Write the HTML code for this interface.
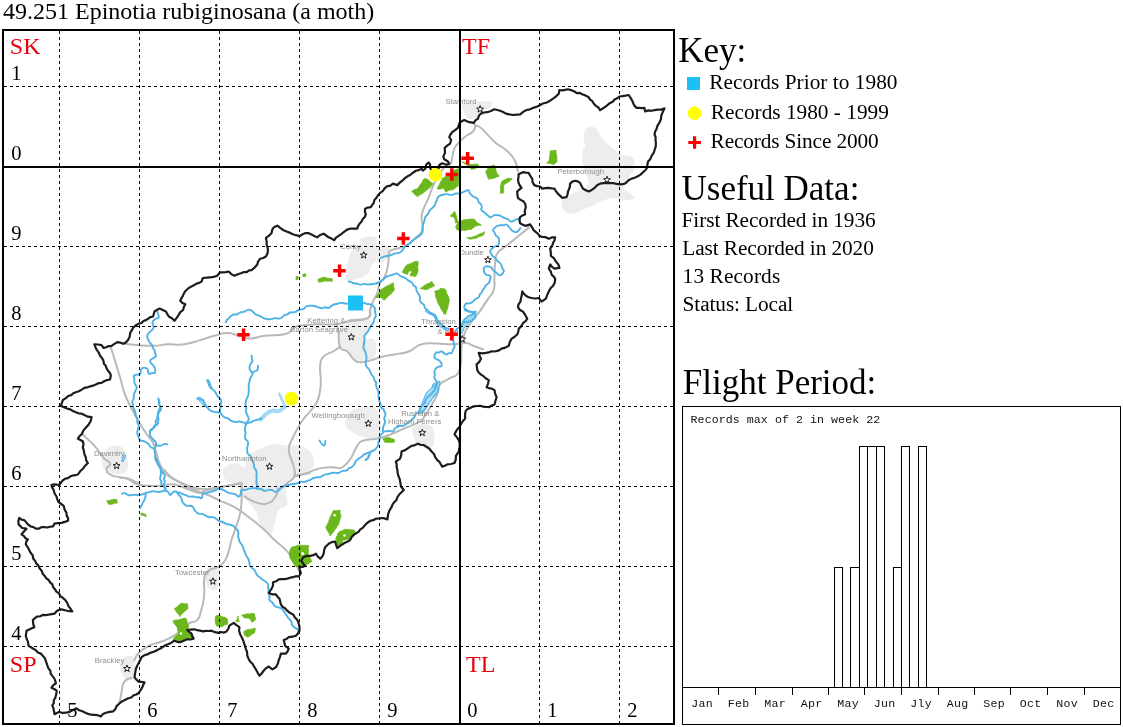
<!DOCTYPE html>
<html><head><meta charset="utf-8"><title>49.251 Epinotia rubiginosana (a moth)</title>
<style>
html,body{margin:0;padding:0;background:#fff;}
body{width:1123px;height:727px;overflow:hidden;position:relative;font-family:"Liberation Serif","Times New Roman",serif;}
svg{position:absolute;left:0;top:0;}
text{font-family:"Liberation Serif","Times New Roman",serif;fill:#000;}
.lbl{font-family:"Liberation Sans",Arial,sans-serif;font-size:7.7px;fill:#8e8e8e;}
.mono{font-family:"Liberation Mono","Courier New",monospace;font-size:11.6px;fill:#111;}
.gl{stroke:#000;stroke-width:1;stroke-dasharray:3 3;fill:none;shape-rendering:crispEdges;}
.sl{stroke:#000;stroke-width:2;fill:none;shape-rendering:crispEdges;}
.ch{stroke:#000;stroke-width:1;fill:none;shape-rendering:crispEdges;}
.red{fill:#ff0000;}
.dg{font-size:20.5px;}
.gr{font-size:24px;fill:#e8000d;}
.h{font-size:35px;}
.t{font-size:21.3px;}
</style></head><body>
<svg width="1123" height="727" viewBox="0 0 1123 727">
<rect x="0" y="0" width="1123" height="727" fill="#fff"/>

<text x="3" y="18.7" font-size="24">49.251 Epinotia rubiginosana (a moth)</text>
<clipPath id="mc"><rect x="4" y="31" width="669" height="692"/></clipPath>
<filter id="bl" x="0" y="0" width="1123" height="727" filterUnits="userSpaceOnUse"><feGaussianBlur stdDeviation="0.45"/></filter>
<g clip-path="url(#mc)"><g filter="url(#bl)">
<g fill="#ededed" stroke="none">
<path d="M462.9 104.3C465.5 102.0 471.8 102.1 477.2 101.5C482.6 100.9 487.4 100.5 490.1 101.5C492.8 102.5 492.2 104.5 490.8 106.5C489.4 108.5 485.7 109.4 483.0 111.5C480.3 113.6 480.1 115.8 477.2 117.2C474.3 118.6 471.3 119.5 468.7 118.6C466.1 117.7 465.6 115.8 464.4 112.9C463.2 110.0 460.3 106.6 462.9 104.3Z"/>
<path d="M586.5 128.7C588.9 126.6 592.8 126.3 595.8 128.0C598.8 129.7 598.7 133.7 601.6 137.3C604.5 140.9 606.1 142.5 610.1 145.9C614.1 149.3 617.2 152.1 621.6 154.4C626.0 156.7 629.7 154.5 632.3 157.3C634.9 160.1 635.2 164.6 634.5 168.6C633.8 172.6 631.1 173.5 628.8 177.2C626.5 180.9 621.9 183.2 623.0 187.2C624.1 191.2 633.9 194.6 634.5 197.2C635.1 199.8 631.1 199.7 626.0 200.0C620.9 200.3 616.3 197.3 608.8 198.7C601.3 200.1 596.4 204.2 588.7 207.2C581.0 210.2 575.5 214.3 570.1 213.7C564.7 213.1 561.8 208.0 561.5 204.4C561.2 200.8 565.0 198.7 568.7 195.8C572.4 192.9 576.0 192.6 580.0 190.0C584.0 187.4 588.1 187.5 588.7 182.9C589.3 178.3 584.1 173.6 583.0 167.0C581.9 160.4 582.4 154.0 583.0 150.1C583.6 146.2 585.7 149.6 585.8 147.3C585.9 145.0 583.6 142.4 583.7 138.7C583.8 135.0 584.1 130.8 586.5 128.7Z"/>
<path d="M413.0 427.2C415.3 424.3 421.9 424.0 425.9 424.3C429.9 424.6 431.3 425.7 433.0 428.6C434.7 431.5 434.8 435.0 434.5 438.7C434.2 442.4 434.9 446.0 431.6 447.0C428.3 448.0 421.4 445.4 418.0 443.7C414.6 442.0 415.4 442.0 414.4 438.7C413.4 435.4 410.7 430.1 413.0 427.2Z"/>
<path d="M357.2 408.6C362.3 407.2 369.7 405.2 374.3 407.2C378.9 409.2 378.9 413.2 380.1 418.6C381.3 424.0 381.5 430.4 380.1 434.4C378.7 438.4 376.3 438.1 372.9 438.7C369.5 439.3 367.2 438.6 362.9 437.2C358.6 435.8 354.8 434.1 351.4 431.5C348.0 428.9 346.3 427.7 345.7 424.3C345.1 420.9 346.3 417.4 348.6 414.3C350.9 411.2 352.1 410.0 357.2 408.6Z"/>
<path d="M361.5 238.6C364.4 237.2 371.2 235.8 374.4 237.2C377.6 238.6 376.7 241.4 377.3 245.7C377.9 250.0 378.4 254.6 377.3 258.6C376.2 262.6 373.6 262.6 371.6 265.8C369.6 269.0 370.2 271.8 367.3 274.4C364.4 277.0 361.2 277.6 357.2 278.7C353.2 279.8 349.5 281.3 347.2 280.1C344.9 278.9 345.5 277.2 345.8 272.9C346.1 268.6 347.3 263.5 348.7 258.6C350.1 253.7 350.7 251.5 353.0 248.6C355.3 245.7 358.4 246.3 360.1 244.3C361.8 242.3 358.6 240.0 361.5 238.6Z"/>
<path d="M377.0 245.0C379.4 242.0 387.8 244.4 390.0 247.0C392.2 249.6 390.4 255.0 388.0 258.0C385.6 261.0 380.2 264.6 378.0 262.0C375.8 259.4 374.6 248.0 377.0 245.0Z"/>
<path d="M347.3 320.0C352.7 318.3 364.1 317.5 368.7 318.6C373.3 319.7 370.8 321.7 370.2 325.7C369.6 329.7 365.0 335.7 365.9 338.6C366.8 341.5 372.6 336.7 374.5 340.1C376.4 343.5 376.9 351.5 375.2 355.8C373.5 360.1 369.8 360.4 365.9 361.5C362.0 362.6 359.6 363.5 355.9 361.5C352.2 359.5 350.5 354.4 347.3 351.5C344.1 348.6 341.8 350.3 340.1 347.2C338.4 344.1 338.4 339.8 338.7 335.8C339.0 331.8 339.8 330.4 341.5 327.2C343.2 324.0 341.9 321.7 347.3 320.0Z"/>
<path d="M223.0 470.1C223.6 466.7 227.0 465.7 230.1 464.4C233.2 463.1 235.8 462.9 238.6 463.5C241.4 464.1 242.3 468.7 244.3 467.2C246.3 465.7 246.0 459.2 248.6 455.8C251.2 452.4 252.0 452.3 257.2 450.0C262.4 447.7 268.4 445.2 274.4 444.3C280.4 443.4 282.3 445.4 287.2 445.7C292.1 446.0 294.1 444.5 298.7 445.7C303.3 446.9 307.1 448.3 310.1 451.5C313.1 454.7 313.4 458.1 313.7 461.5C314.0 464.9 314.3 465.7 311.6 468.6C308.9 471.5 303.8 473.8 300.1 475.8C296.4 477.8 295.6 476.7 293.0 478.7C290.4 480.7 288.6 483.2 287.2 485.8C285.8 488.4 285.8 487.8 285.8 491.5C285.8 495.2 288.6 500.7 287.2 504.4C285.8 508.1 281.0 507.2 278.7 510.1C276.4 513.0 277.2 513.9 275.8 518.7C274.4 523.5 273.1 531.3 271.5 534.0C269.9 536.7 270.6 534.5 268.0 532.0C265.4 529.5 261.0 525.7 258.6 521.6C256.2 517.5 259.2 517.3 255.8 511.6C252.4 505.9 244.3 498.5 241.4 493.0C238.5 487.5 244.2 486.3 241.4 484.0C238.6 481.7 231.0 484.4 227.3 481.6C223.6 478.8 222.4 473.5 223.0 470.1Z"/>
<path d="M111.6 446.5C115.0 445.4 118.5 444.6 121.6 447.3C124.7 450.0 126.2 455.8 127.3 460.1C128.4 464.4 128.7 465.8 127.3 468.7C125.9 471.6 124.1 473.9 120.1 474.5C116.1 475.1 111.0 473.9 107.3 471.6C103.6 469.3 102.1 466.7 101.5 463.0C100.9 459.3 102.4 456.3 104.4 453.0C106.4 449.7 108.2 447.6 111.6 446.5Z"/>
<path d="M207.2 568.6C209.8 565.7 216.6 565.2 218.7 568.6C220.8 572.0 219.1 581.5 217.9 585.8C216.7 590.1 215.3 590.7 212.9 590.1C210.5 589.5 206.9 587.2 205.8 582.9C204.7 578.6 204.6 571.5 207.2 568.6Z"/>
<path d="M124.4 657.2C127.1 655.8 131.7 655.2 133.7 657.2C135.7 659.2 134.6 663.3 134.5 667.3C134.4 671.3 134.7 675.0 133.0 677.3C131.3 679.6 128.2 679.6 125.9 678.7C123.6 677.8 122.8 675.9 121.6 673.0C120.4 670.1 119.5 667.6 120.1 664.4C120.7 661.2 121.7 658.6 124.4 657.2Z"/>
</g>
<g fill="none" stroke="#b9b9b9" stroke-width="2" stroke-linejoin="round" stroke-linecap="round">
<path d="M473.7 122.9C474.0 123.7 475.2 123.5 475.0 125.8C474.8 128.1 475.8 128.5 473.0 131.5C470.2 134.5 468.2 134.1 464.4 137.2C460.6 140.3 461.3 139.9 458.6 143.0C455.9 146.1 456.0 144.9 454.3 148.7C452.6 152.5 453.3 153.2 452.2 157.3C451.1 161.4 452.7 161.0 450.3 164.0C447.9 167.0 447.3 163.6 443.1 168.6C438.9 173.6 438.3 175.3 434.5 182.9C430.7 190.5 431.8 189.9 428.8 197.2C425.8 204.5 425.0 204.4 423.1 210.1C421.2 215.8 421.8 213.4 421.6 218.7C421.4 224.0 424.3 224.8 422.4 230.1C420.5 235.4 418.9 234.5 414.5 238.7C410.1 242.9 412.0 242.6 405.9 245.7C399.8 248.8 396.2 248.0 391.6 250.2C387.0 252.4 389.5 251.8 388.7 254.0C387.9 256.2 389.1 254.7 388.7 258.6C388.3 262.5 388.4 263.6 387.3 268.6C386.2 273.6 386.5 273.0 384.4 277.2C382.3 281.4 381.3 280.2 379.4 284.4C377.5 288.6 379.0 288.4 377.3 293.0C375.6 297.6 374.9 297.0 373.0 301.6C371.1 306.2 370.9 306.3 370.1 310.1C369.3 313.9 372.0 313.4 370.1 315.9C368.2 318.4 368.3 318.3 363.0 319.4C357.7 320.5 353.5 320.0 350.1 320.2"/>
<path d="M475.0 125.8C476.4 126.2 476.8 124.9 480.1 127.2C483.4 129.5 483.1 130.2 487.3 134.4C491.5 138.6 491.2 139.2 495.8 143.0C500.4 146.8 500.2 145.3 504.4 148.7C508.6 152.1 508.5 152.0 511.6 155.8C514.7 159.6 514.2 158.8 515.9 163.0C517.6 167.2 517.4 169.3 518.0 171.6"/>
<path d="M529.1 227.4C525.4 230.4 521.7 233.4 515.1 238.7C508.5 244.0 509.2 243.4 504.4 247.3C499.6 251.2 499.7 249.3 497.2 253.5C494.7 257.7 495.8 256.6 495.1 262.9C494.4 269.2 494.8 269.9 494.4 277.2C494.0 284.5 495.6 284.0 493.7 290.1C491.8 296.2 491.2 294.0 487.2 300.1C483.2 306.2 483.6 306.1 478.6 313.0C473.6 319.9 472.4 320.2 468.6 325.9C464.8 331.6 466.3 329.0 464.4 334.3C462.5 339.6 462.9 336.3 461.6 345.8C460.3 355.3 462.8 361.3 459.4 370.1C456.0 378.9 453.8 374.9 448.7 378.7C443.6 382.5 443.2 380.2 440.1 384.4C437.0 388.6 439.5 388.9 437.2 394.4C434.9 399.9 435.4 398.5 431.6 405.0C427.8 411.5 426.8 413.8 423.0 418.6C419.2 423.4 421.5 420.6 417.3 422.9C413.1 425.2 412.7 424.9 407.3 427.2C401.9 429.5 402.6 429.2 397.2 431.5C391.8 433.8 392.9 433.9 387.2 435.8C381.5 437.7 382.3 437.4 375.8 438.7C369.3 440.0 367.9 438.9 362.9 440.8C357.9 442.7 360.3 441.4 357.2 445.8C354.1 450.2 354.5 452.3 351.4 457.3C348.3 462.3 348.7 461.5 345.7 464.4C342.7 467.3 343.8 467.3 340.0 468.0C336.2 468.7 337.2 467.0 331.5 467.2C325.8 467.4 325.2 467.1 318.7 468.6C312.2 470.1 313.7 470.8 307.2 472.9C300.7 475.0 297.7 475.5 294.3 476.5"/>
<path d="M123.0 343.7C126.8 344.1 128.9 344.5 137.3 345.1C145.7 345.7 146.5 346.0 154.5 345.8C162.5 345.6 159.3 344.7 167.2 344.3C175.1 343.9 175.5 345.4 184.3 344.3C193.1 343.2 192.1 342.4 200.1 340.1C208.1 337.8 207.1 337.7 214.4 335.8C221.7 333.9 220.8 332.9 227.3 332.9C233.8 332.9 232.6 334.3 238.7 335.8C244.8 337.3 243.3 338.6 250.2 338.6C257.1 338.6 255.4 336.9 264.5 335.8C273.6 334.7 276.9 336.2 284.5 334.3C292.1 332.4 289.0 330.9 293.1 328.6C297.2 326.3 293.9 326.8 300.0 325.7C306.1 324.6 305.9 324.7 315.8 324.3C325.7 323.9 328.8 325.1 337.2 324.3C345.6 323.5 341.2 322.5 347.3 321.4C353.4 320.3 354.4 321.1 360.1 320.0C365.8 318.9 366.0 319.3 368.7 317.2C371.4 315.1 369.7 313.4 370.1 312.0"/>
<path d="M338.7 332.9C339.1 336.7 337.8 342.2 340.1 347.2C342.4 352.2 343.5 348.1 347.3 351.5C351.1 354.9 350.6 357.2 354.4 360.1C358.2 363.0 357.0 362.2 361.6 362.2C366.2 362.2 366.6 361.4 371.6 360.1C376.6 358.8 374.1 358.7 380.2 357.2C386.3 355.7 386.9 355.9 394.5 354.4C402.1 352.9 401.5 354.2 408.8 351.5C416.1 348.8 414.1 346.4 421.7 344.3C429.3 342.2 429.2 343.6 437.2 343.6C445.2 343.6 443.9 344.5 451.6 344.3C459.3 344.1 460.2 342.5 465.9 342.9C471.6 343.3 468.4 344.1 473.0 345.8C477.6 347.5 480.3 348.4 483.0 349.4"/>
<path d="M337.2 324.3 L338.7 332.9"/>
<path d="M340.1 347.2C338.2 348.3 337.6 348.8 333.0 351.5C328.4 354.2 326.3 353.0 322.9 357.2C319.5 361.4 320.7 361.5 320.1 367.2C319.5 372.9 320.8 372.6 320.8 378.7C320.8 384.8 321.1 384.0 320.1 390.1C319.1 396.2 319.9 395.9 317.2 401.6C314.5 407.3 314.1 406.2 310.0 411.5C305.9 416.8 306.2 414.6 301.7 421.5C297.2 428.4 296.5 429.6 293.1 437.2C289.7 444.8 288.8 442.8 288.8 450.1C288.8 457.4 291.6 457.5 293.1 464.4C294.6 471.3 296.0 470.9 294.5 475.9C293.0 480.9 291.6 479.2 287.4 483.0C283.2 486.8 281.1 488.3 278.8 490.2"/>
<path d="M294.5 475.9 L310.0 473.0"/>
<path d="M110.8 347.2C111.8 350.3 112.3 351.8 114.4 358.7C116.5 365.6 117.0 367.3 118.7 373.0C120.4 378.7 119.4 374.7 120.9 380.0C122.4 385.3 121.9 386.0 124.4 392.9C126.9 399.8 126.4 398.2 130.2 405.8C134.0 413.4 134.5 414.2 138.7 421.5C142.9 428.8 142.1 427.3 145.9 433.0C149.7 438.7 150.4 438.0 153.1 443.0C155.8 448.0 154.1 445.9 155.9 451.6C157.7 457.3 156.6 457.9 160.0 464.4C163.4 470.9 162.9 470.9 168.6 475.9C174.3 480.9 174.6 478.8 181.5 483.0C188.4 487.2 187.9 488.5 194.4 491.5C200.9 494.5 199.0 491.8 205.9 494.3C212.8 496.8 212.6 497.4 220.2 500.8C227.8 504.2 226.9 502.8 234.5 507.2C242.1 511.6 241.2 511.5 248.8 517.2C256.4 522.9 256.2 522.6 263.1 528.7C270.0 534.8 268.8 534.7 274.5 540.0C280.2 545.3 279.9 544.0 284.5 548.6C289.1 553.2 288.2 552.2 291.6 557.2C295.0 562.2 295.1 562.6 297.4 567.2C299.7 571.8 299.5 572.4 300.2 574.3"/>
<path d="M120.0 477.9C122.3 478.3 124.0 477.6 128.6 479.3C133.2 481.0 131.9 482.6 137.2 484.3C142.5 486.0 142.5 485.3 148.6 485.7C154.7 486.1 153.6 486.1 160.1 485.7C166.6 485.3 166.9 483.9 173.0 484.3C179.1 484.7 177.3 485.3 183.0 487.2C188.7 489.1 191.4 490.4 194.4 491.5"/>
<path d="M164.4 470.0C166.3 471.9 166.5 473.4 171.5 477.2C176.5 481.0 176.1 480.7 183.0 484.3C189.9 487.9 192.0 488.9 197.3 490.8C202.6 492.7 196.9 492.5 203.0 491.5C209.1 490.5 209.9 489.3 220.2 487.2C230.5 485.1 235.9 484.6 241.6 483.6"/>
<path d="M181.5 483.0C186.1 484.5 188.8 487.6 198.7 488.7C208.6 489.8 207.3 488.8 218.7 487.3C230.1 485.8 235.5 484.1 241.6 483.0"/>
<path d="M241.6 483.6C241.6 487.6 242.0 490.8 241.6 498.6C241.2 506.4 241.7 505.3 240.2 512.9C238.7 520.5 238.2 520.0 235.9 527.2C233.6 534.4 233.4 533.5 231.5 540.0C229.6 546.5 230.6 545.7 228.7 551.4C226.8 557.1 227.5 557.3 224.4 561.5C221.3 565.7 221.4 564.7 217.2 567.2C213.0 569.7 212.0 567.8 208.6 570.8C205.2 573.8 205.4 573.5 204.3 578.6C203.2 583.7 204.5 584.4 204.3 590.1C204.1 595.8 204.5 594.4 203.6 600.1C202.7 605.8 202.5 606.3 200.8 611.6C199.1 616.9 200.5 616.9 197.2 620.1C193.9 623.3 194.3 619.9 188.6 623.7C182.9 627.5 183.2 629.6 176.0 634.3C168.8 639.0 168.9 638.4 161.6 641.5C154.3 644.6 154.9 642.7 148.8 645.8C142.7 648.9 142.5 649.2 138.7 653.0C134.9 656.8 135.6 658.2 134.5 660.1"/>
<path d="M131.6 678.0C129.7 679.0 127.1 678.0 124.4 681.6C121.7 685.2 122.7 686.6 121.6 691.6C120.5 696.6 120.9 696.9 120.1 700.2C119.3 703.5 119.1 703.0 118.7 704.0"/>
<path d="M244.5 496.5C247.9 498.2 250.9 501.2 257.4 502.9C263.9 504.6 263.8 504.8 268.8 502.9C273.8 501.0 273.7 499.6 276.0 495.8C278.3 492.0 277.0 490.5 277.4 488.6"/>
<path d="M82.2 433.7C83.9 435.4 85.1 436.5 88.7 440.1C92.3 443.7 92.0 442.7 95.8 447.3C99.6 451.9 99.2 452.9 103.0 457.3C106.8 461.7 109.2 460.7 110.1 463.7C111.0 466.7 106.5 465.8 106.5 468.7C106.5 471.6 106.5 472.2 110.1 474.5C113.7 476.8 115.1 476.2 120.1 477.3C125.1 478.4 123.7 476.9 128.7 478.7C133.7 480.5 136.0 482.6 138.7 484.0"/>
</g>
<g fill="#a9dbf6" stroke="#4db4e8" stroke-width="1" stroke-linejoin="round">
<polygon points="476.5,311.5 474.8,316.8 471.6,320.2 467.0,324.2 463.8,328.8 462.0,333.5 459.5,333.0 461.0,327.5 464.5,322.5 469.0,318.5 472.5,315.0 474.0,311.0"/>
<polygon points="426.2,310.0 431.0,312.4 435.8,314.8 437.6,319.6 440.0,323.4 444.0,326.4 448.7,329.0 447.5,331.0 442.5,328.5 438.0,325.0 435.5,320.0 434.0,316.0 429.5,314.0 425.5,311.5"/>
<polygon points="433.0,384.0 440.0,381.0 438.5,392.0 432.0,399.0 427.0,407.0 423.0,413.0 418.0,414.0 422.0,405.0 427.0,396.0 431.0,390.0"/>
<polygon points="426.0,393.0 436.0,384.0 438.0,390.0 430.0,402.0 424.0,410.0 419.0,412.0"/>
<polygon points="197.0,398.0 200.0,397.0 205.0,403.0 207.5,408.0 203.0,405.0"/>
<polygon points="207.0,380.0 209.0,380.0 212.0,388.0 210.0,388.0"/>
<polygon points="124.5,455.0 126.0,455.5 123.0,462.0 121.5,461.0"/>
</g>
<path d="M260.5 419.5C261.3 418.7 261.6 418.2 263.5 416.5C265.4 414.8 265.0 414.6 267.5 413.0C270.0 411.4 269.9 411.1 273.0 410.6C276.1 410.1 276.0 412.0 279.0 411.0C282.0 410.0 282.9 408.1 284.3 407.0" fill="none" stroke="#a4daf6" stroke-width="4.2" stroke-linecap="round" stroke-linejoin="round"/>
<path d="M279.3 393.8C279.9 395.1 280.1 395.4 281.5 398.5C282.9 401.6 283.8 403.6 284.6 405.5" fill="none" stroke="#a4daf6" stroke-width="2.6" stroke-linecap="round" stroke-linejoin="round"/>
<g fill="none" stroke="#4db2e6" stroke-width="1.9" stroke-linejoin="round" stroke-linecap="round">
<path d="M520.5 227.9C519.5 229.0 519.5 230.7 517.3 231.7C515.0 232.7 515.2 232.3 513.0 231.2C510.8 230.1 511.8 229.8 509.8 227.9C507.9 226.0 508.3 225.5 506.5 224.7C504.7 223.9 505.5 225.0 503.9 225.2C502.3 225.3 502.9 225.1 501.2 225.2C499.5 225.3 500.0 225.1 498.4 225.6C496.7 226.1 497.4 225.5 495.8 226.9C494.2 228.3 493.4 228.4 493.1 230.1C492.8 231.8 493.8 231.1 494.6 232.6C495.5 234.2 494.8 234.0 495.8 235.4C496.8 236.8 497.0 235.9 497.9 237.2C498.9 238.4 498.8 237.5 499.0 239.7C499.2 241.9 499.4 242.7 498.5 244.6C497.6 246.5 497.6 245.2 496.1 246.0C494.7 246.8 495.4 245.9 493.7 247.3C492.0 248.7 491.1 248.4 490.4 250.5C489.7 252.6 490.6 252.4 491.5 254.3C492.4 256.2 492.1 255.4 493.4 256.7C494.7 258.0 494.6 257.3 495.8 258.6C497.0 259.9 496.2 259.8 497.5 261.2C498.8 262.5 498.9 261.6 500.1 263.0C501.3 264.4 500.8 264.1 501.5 265.8C502.2 267.5 501.9 266.9 502.6 268.6C503.3 270.4 504.5 269.6 503.7 271.5C502.9 273.4 502.5 274.9 500.1 275.1C497.7 275.3 497.9 273.7 495.8 272.2C493.7 270.7 494.5 271.5 493.0 270.0C491.5 268.5 493.0 268.3 490.8 267.2C488.6 266.1 487.9 265.6 485.8 266.5C483.7 267.4 483.7 267.7 483.7 270.1C483.7 272.5 483.9 272.7 485.8 274.4C487.7 276.1 488.8 274.3 490.1 275.8C491.4 277.3 490.5 277.4 490.1 279.5C489.7 281.7 489.9 281.4 488.7 283.0C487.5 284.6 487.4 283.5 486.2 284.9C485.0 286.3 485.6 286.0 484.6 287.5C483.6 289.1 483.8 288.6 482.9 290.1C482.0 291.6 482.6 291.2 481.6 292.6C480.7 294.0 480.6 293.3 479.7 294.7C478.8 296.1 479.9 296.0 478.6 297.3C477.3 298.6 477.2 297.8 475.5 299.1C473.8 300.4 474.7 300.3 472.9 301.6C471.1 302.9 471.7 302.7 469.6 303.4C467.4 304.0 467.4 302.3 465.8 303.7C464.2 305.1 464.1 306.2 464.3 308.0C464.5 309.8 465.3 308.6 466.6 309.7C467.9 310.7 467.1 310.9 468.6 311.6C470.1 312.3 469.8 311.6 471.5 312.0C473.2 312.4 473.2 311.4 474.3 313.0C475.4 314.6 475.7 315.2 475.1 317.3C474.5 319.4 474.2 318.7 472.2 320.0C470.3 321.3 470.6 321.0 468.6 321.6C466.6 322.2 467.4 321.5 465.7 321.9C464.0 322.4 464.6 321.5 462.9 323.0C461.2 324.5 461.7 325.3 460.0 327.0C458.3 328.7 458.6 327.4 457.3 328.6C456.0 329.8 456.4 329.4 455.7 330.9C455.1 332.4 455.8 332.1 455.2 333.6C454.5 335.1 454.3 334.4 453.6 335.9C453.0 337.4 453.1 336.9 453.0 338.6C452.9 340.3 453.1 339.8 453.4 341.5C453.7 343.2 453.8 342.6 454.1 344.3C454.4 346.0 454.8 345.5 454.4 347.2C454.0 348.9 453.7 348.3 452.9 350.0C452.1 351.7 452.9 351.9 451.6 352.9C450.3 353.9 450.3 352.7 448.6 353.2C446.8 353.6 447.9 354.9 445.8 354.4C443.7 353.9 443.6 352.1 441.5 351.5C439.4 350.9 440.4 352.1 438.7 352.5C437.0 353.0 437.1 351.5 435.8 352.9C434.5 354.3 434.0 355.3 434.4 357.2C434.8 359.1 435.5 358.1 437.2 359.4C438.9 360.7 438.8 359.6 440.1 361.5C441.4 363.4 442.4 364.1 441.5 365.8C440.6 367.5 439.3 365.5 437.2 367.2C435.1 368.9 435.1 369.3 434.4 371.5C433.7 373.7 435.0 372.7 435.0 374.4C435.0 376.1 434.2 375.6 434.4 377.3C434.6 379.0 434.9 378.5 435.7 380.2C436.6 381.9 437.3 381.1 437.2 383.0C437.1 384.9 436.4 384.3 435.5 386.4C434.7 388.6 435.3 388.4 434.4 390.1C433.5 391.8 433.6 390.8 432.6 392.1C431.6 393.4 432.2 393.3 431.0 394.4C429.9 395.5 430.0 394.8 428.7 395.9C427.4 397.0 427.7 396.6 426.8 398.0C425.8 399.3 426.2 398.9 425.5 400.4C424.8 401.9 425.5 401.5 424.4 403.0C423.3 404.5 423.2 403.8 421.9 405.5C420.6 407.2 421.1 406.7 420.1 408.6C419.1 410.5 420.0 410.2 418.6 411.8C417.3 413.3 416.9 412.3 415.7 413.9C414.4 415.6 415.4 415.7 414.4 417.2C413.4 418.7 413.5 417.8 412.3 419.0C411.1 420.2 411.6 420.0 410.4 421.1C409.2 422.3 409.5 421.8 408.1 422.8C406.8 423.7 407.3 423.4 405.8 424.3C404.3 425.2 404.9 425.4 403.1 425.9C401.4 426.3 401.7 425.4 399.9 425.8C398.1 426.2 398.8 426.3 397.2 427.2C395.6 428.1 395.9 427.6 394.6 428.9C393.4 430.2 394.3 430.9 393.0 431.5C391.7 432.1 391.9 431.0 390.1 430.9C388.4 430.8 389.0 431.0 387.3 431.2C385.5 431.4 385.9 430.8 384.4 431.5C382.9 432.2 383.5 432.3 382.2 433.6C380.9 434.9 380.9 434.1 380.1 435.8C379.3 437.5 380.1 437.2 379.6 439.2C379.0 441.2 378.9 440.4 378.4 442.4C377.9 444.4 378.5 444.1 377.9 445.8C377.3 447.5 377.4 447.0 376.3 448.2C375.1 449.5 375.5 449.1 374.1 450.1C372.6 451.1 373.4 450.7 371.5 451.5C369.6 452.3 370.0 452.0 367.9 452.9C365.7 453.8 366.2 453.2 364.3 454.4C362.4 455.6 363.3 455.5 361.6 456.8C359.9 458.0 360.3 457.4 358.6 458.7C356.9 460.0 357.2 459.4 355.9 461.1C354.6 462.8 355.6 462.6 354.3 464.4C353.0 466.2 353.2 466.1 351.6 467.2C350.0 468.3 350.4 467.2 349.1 468.1C347.7 469.0 348.5 469.4 347.1 470.2C345.7 470.9 346.1 470.4 344.4 470.7C342.7 471.0 343.2 470.6 341.5 471.3C339.8 471.9 340.5 472.4 338.8 472.8C337.1 473.3 337.6 472.9 335.8 472.9C334.0 472.9 334.6 472.5 332.8 472.7C331.1 472.9 331.7 473.1 330.0 473.5C328.3 474.0 328.8 474.0 327.2 474.3C325.6 474.6 326.1 474.1 324.6 474.6C323.1 475.1 323.7 475.2 322.3 476.0C320.9 476.7 321.4 476.8 319.9 477.1C318.4 477.5 318.8 477.0 317.2 477.2C315.6 477.4 316.1 477.3 314.6 477.8C313.1 478.2 313.5 478.0 312.1 478.7C310.7 479.4 311.3 479.5 309.8 480.1C308.3 480.7 308.8 480.3 307.2 480.8C305.6 481.3 306.2 481.7 304.4 481.9C302.7 482.2 303.1 481.4 301.3 481.7C299.6 482.0 300.4 482.2 298.6 482.9C296.8 483.6 297.3 483.5 295.3 483.8C293.3 484.2 293.9 483.7 291.9 484.0C289.9 484.4 290.5 484.5 288.6 485.0C286.7 485.5 287.3 485.0 285.5 485.5C283.8 486.1 284.4 486.1 282.8 486.9C281.1 487.7 281.6 486.8 280.0 488.2C278.4 489.6 279.1 490.6 277.4 491.5C275.7 492.4 276.1 491.7 274.4 491.3C272.7 490.8 273.6 490.4 271.7 490.0C269.8 489.6 270.2 489.6 268.0 489.9C265.9 490.1 266.6 491.1 264.5 490.8C262.4 490.5 263.3 489.7 261.2 489.0C259.0 488.4 259.4 488.9 257.4 488.6C255.4 488.3 256.3 488.1 254.5 488.1C252.8 488.0 253.4 488.2 251.7 488.3C249.9 488.5 250.7 488.1 248.8 488.6C246.9 489.1 247.5 489.5 245.3 489.9C243.2 490.3 243.0 488.9 241.6 490.0C240.2 491.1 241.6 491.5 240.8 493.5C239.9 495.4 240.2 496.1 238.8 496.5C237.4 496.9 237.8 495.6 236.1 494.7C234.4 493.8 235.1 494.1 233.1 493.6C231.1 493.1 231.5 493.7 229.3 493.1C227.2 492.5 227.9 492.6 225.9 491.5C223.9 490.4 224.7 490.4 222.5 489.5C220.3 488.7 220.9 488.3 218.7 488.6C216.5 488.9 217.4 489.6 215.3 490.4C213.2 491.3 213.6 491.0 211.6 491.5C209.6 492.0 210.4 491.7 208.7 492.3C207.1 492.8 207.7 492.9 206.0 493.3C204.2 493.7 204.3 492.2 203.0 493.6C201.7 495.0 202.9 496.8 201.6 497.9C200.3 499.0 200.5 497.5 198.8 497.3C197.1 497.1 197.6 497.4 195.9 497.2C194.2 497.0 194.8 496.7 193.1 496.5C191.3 496.3 191.8 496.8 190.1 496.6C188.4 496.4 189.2 496.5 187.3 495.8C185.4 495.1 185.9 495.2 183.7 494.4C181.5 493.5 182.0 493.5 180.1 492.9C178.2 492.3 179.0 492.7 177.2 492.2C175.5 491.8 175.9 491.2 174.4 491.5C172.9 491.8 173.4 492.0 172.1 493.1C170.8 494.1 171.2 495.2 170.1 495.0C169.0 494.8 169.7 493.7 168.4 492.5C167.1 491.2 167.6 491.2 165.8 490.8C164.0 490.4 164.5 490.8 162.5 491.1C160.5 491.5 161.2 491.9 159.2 492.0C157.2 492.1 157.8 491.7 155.8 491.5C153.8 491.3 154.4 491.2 152.4 491.3C150.4 491.5 151.1 491.7 149.1 492.1C147.1 492.6 147.8 492.2 145.8 492.9C143.8 493.6 144.5 493.8 142.3 494.4C140.2 495.0 140.8 494.9 138.6 495.0C136.4 495.1 137.2 494.8 135.0 494.8C132.8 494.8 133.4 494.9 131.4 495.0C129.4 495.1 130.0 495.7 128.2 495.2C126.4 494.7 127.1 493.8 125.3 493.3C123.5 492.9 123.1 493.5 122.1 493.6"/>
<path d="M464.7 310.0C465.6 310.3 465.9 310.5 467.8 311.0C469.7 311.5 469.5 310.7 471.0 311.6C472.5 312.5 473.2 312.8 472.7 314.0C472.2 315.2 471.2 314.5 469.3 315.7C467.4 316.9 468.2 316.3 466.3 318.0C464.4 319.7 464.0 320.2 463.0 321.2"/>
<path d="M319.5 440.5C320.2 441.6 320.5 442.6 322.0 444.0C323.5 445.4 323.5 445.9 324.5 445.0C325.5 444.1 325.1 442.2 325.3 441.0"/>
<path d="M369.0 455.0C368.5 456.1 368.4 457.1 367.4 458.5C366.3 459.9 366.1 459.2 365.5 459.5"/>
<path d="M518.4 218.8C517.6 219.0 517.3 219.0 515.8 219.6C514.3 220.2 514.9 220.3 513.4 220.8C511.9 221.4 512.3 221.9 510.8 221.5C509.3 221.1 510.0 220.4 508.4 219.5C506.8 218.5 507.2 219.0 505.5 218.3C503.8 217.6 504.3 218.0 502.7 217.2C501.0 216.4 501.7 216.2 500.1 215.6C498.5 215.0 499.0 215.5 497.4 215.3C495.8 215.2 496.8 214.5 494.7 215.1C492.6 215.7 492.4 217.0 490.4 217.2C488.4 217.4 489.4 216.7 488.2 215.8C486.9 214.8 487.5 215.2 486.2 214.0C484.9 212.8 485.1 213.2 483.7 211.9C482.2 210.7 481.9 211.2 481.3 209.7C480.7 208.2 481.9 208.6 481.8 206.9C481.6 205.3 481.7 205.8 480.8 204.3C479.9 202.8 479.7 203.5 478.7 202.0C477.7 200.4 478.8 200.4 477.6 199.0C476.4 197.6 476.5 198.4 474.9 197.4C473.2 196.4 473.7 196.9 472.2 195.7C470.7 194.5 471.1 194.9 470.0 193.3C468.8 191.7 470.0 191.0 468.4 190.4C466.8 189.8 466.6 190.7 464.7 191.4C462.8 192.1 463.7 192.0 462.1 192.7C460.5 193.4 461.1 193.4 459.3 193.6C457.5 193.8 457.9 193.1 456.0 193.4C454.1 193.7 454.8 194.3 452.9 194.7C451.0 195.1 451.6 194.8 449.6 194.7C447.7 194.5 448.3 194.1 446.4 194.1C444.5 194.1 445.1 194.3 443.2 194.7C441.2 195.2 441.6 194.8 440.0 195.7C438.4 196.6 438.6 196.3 437.7 197.6C436.8 198.9 437.6 198.7 436.9 200.1C436.3 201.6 436.1 201.0 435.6 202.5C435.0 204.0 436.0 203.5 435.0 205.1C434.0 206.7 434.0 206.2 432.4 207.8C430.8 209.4 431.0 208.6 429.7 210.4C428.4 212.2 429.3 212.0 428.0 213.9C426.7 215.9 426.4 215.2 425.4 216.9C424.4 218.6 425.1 217.9 424.7 219.4C424.3 220.9 424.5 220.4 424.0 221.9C423.5 223.4 423.6 222.9 423.1 224.4C422.6 225.9 422.6 225.4 422.4 227.0C422.3 228.6 422.5 228.1 422.5 229.7C422.5 231.3 423.1 230.7 422.4 232.3C421.7 233.9 421.7 233.6 420.2 235.1C418.7 236.6 419.2 236.1 417.4 237.3C415.6 238.5 416.1 238.0 414.3 239.2C412.6 240.5 413.2 240.2 411.6 241.6C410.0 243.0 410.6 242.7 408.9 244.0C407.2 245.3 407.4 244.7 405.9 245.9C404.4 247.1 405.0 246.6 404.0 248.0C402.9 249.3 403.5 249.1 402.4 250.4C401.3 251.6 401.7 251.3 400.2 252.2C398.7 253.1 399.1 252.8 397.4 253.2C395.6 253.6 396.1 253.1 394.3 253.6C392.6 254.1 393.3 254.2 391.6 254.9C389.9 255.5 390.4 255.4 388.7 255.8C387.0 256.2 387.6 255.8 386.0 256.1C384.4 256.4 384.9 256.3 383.4 256.8C381.9 257.4 381.6 257.6 380.9 257.9"/>
<path d="M348.7 281.5C349.5 281.7 349.9 281.7 351.5 282.3C353.2 282.8 352.5 283.0 354.3 283.4C356.0 283.8 355.3 283.3 357.2 283.7C359.1 284.1 358.5 284.6 360.5 284.6C362.5 284.7 361.9 283.9 364.0 283.9C366.0 283.8 365.3 284.3 367.3 284.4C369.3 284.5 368.7 284.5 370.7 284.3C372.7 284.1 372.0 284.2 374.0 283.8C376.0 283.4 375.4 283.7 377.3 283.0C379.2 282.3 378.6 282.5 380.3 281.4C382.0 280.3 381.4 280.6 383.0 279.4C384.6 278.2 384.0 278.5 385.6 277.4C387.2 276.4 386.6 276.6 388.4 275.9C390.2 275.2 389.8 275.6 391.6 275.1C393.4 274.6 392.7 274.6 394.4 274.2C396.1 273.7 395.6 273.1 397.3 273.6C399.0 274.1 398.2 274.6 400.0 275.7C401.7 276.8 401.3 276.4 403.0 277.2C404.7 278.0 404.2 277.5 405.6 278.3C407.0 279.2 406.4 279.1 407.8 280.1C409.2 281.0 408.9 280.6 410.2 281.5C411.5 282.4 411.3 282.0 412.3 283.2C413.3 284.5 412.6 284.5 413.6 285.7C414.7 286.9 415.0 285.6 415.9 287.2C416.8 288.8 415.9 288.9 416.7 291.0C417.6 293.2 417.9 292.5 418.8 294.4C419.7 296.3 419.5 295.4 419.9 297.2C420.2 299.0 419.4 298.6 420.0 300.4C420.5 302.1 420.4 301.6 421.6 303.0C422.8 304.4 423.0 303.4 424.0 305.0C425.1 306.5 424.1 306.5 425.1 308.0C426.1 309.6 426.0 308.7 427.4 310.1C428.8 311.5 428.2 311.4 429.9 312.7C431.6 314.0 431.4 313.1 433.1 314.4C434.8 315.7 434.4 315.2 435.7 317.0C437.0 318.7 436.4 318.6 437.4 320.2C438.4 321.8 438.0 321.2 439.1 322.3C440.2 323.5 439.9 323.0 441.1 324.1C442.3 325.1 441.7 324.7 443.1 325.9C444.5 327.1 443.9 327.1 445.6 327.9C447.4 328.8 447.9 328.5 448.8 328.7"/>
<path d="M225.9 322.2C226.3 321.4 226.3 321.0 227.3 319.6C228.4 318.2 228.1 318.8 229.4 317.6C230.7 316.4 230.2 316.6 231.6 315.7C233.0 314.8 232.4 314.9 234.0 314.5C235.6 314.2 235.3 314.9 236.8 314.5C238.3 314.0 237.7 313.7 239.1 313.0C240.5 312.3 240.0 312.5 241.6 312.1C243.2 311.7 242.9 312.3 244.5 311.7C246.2 311.1 245.5 310.6 247.2 310.1C248.9 309.6 248.4 309.5 250.2 310.0C252.0 310.5 251.4 310.6 253.1 311.9C254.7 313.2 253.9 313.1 255.6 314.2C257.4 315.4 257.1 315.0 258.8 315.7C260.5 316.4 259.9 315.9 261.3 316.6C262.7 317.4 262.1 317.4 263.6 318.1C265.0 318.8 264.5 318.6 266.1 318.9C267.7 319.3 267.0 319.3 268.8 319.3C270.6 319.3 270.1 319.2 272.1 318.9C274.1 318.5 273.4 318.2 275.4 318.1C277.4 318.0 276.9 318.8 278.8 318.6C280.7 318.4 280.2 318.5 281.8 317.5C283.5 316.5 282.6 316.2 284.3 315.2C286.0 314.3 285.7 315.1 287.4 314.3C289.1 313.5 288.2 313.1 290.0 312.5C291.7 312.0 291.4 312.8 293.2 312.5C295.1 312.2 294.5 312.3 296.1 311.6C297.8 310.8 297.2 310.6 298.8 310.0C300.4 309.4 299.9 309.9 301.4 309.4C303.0 309.0 302.6 309.5 304.0 308.6C305.3 307.7 304.6 307.3 306.0 306.5C307.4 305.7 306.8 306.1 308.6 305.9C310.4 305.7 310.0 305.6 312.0 305.7C314.0 305.9 313.4 305.8 315.3 306.3C317.3 306.7 316.6 306.7 318.6 307.3C320.6 307.9 319.9 308.3 321.9 308.2C323.9 308.2 323.3 307.3 325.3 307.2C327.3 307.1 326.8 308.3 328.6 308.0C330.4 307.7 329.6 307.2 331.2 306.1C332.9 305.1 332.2 305.2 334.0 304.5C335.8 303.8 335.4 304.1 337.2 303.7C339.0 303.3 338.3 303.2 339.9 303.0C341.5 302.8 340.9 302.9 342.5 303.0C344.2 303.1 343.6 303.3 345.2 303.5C346.8 303.7 346.3 303.8 347.9 303.7C349.5 303.6 349.0 303.2 350.6 303.1C352.3 302.9 351.7 302.9 353.4 303.2C355.1 303.5 354.5 304.1 356.2 304.0C357.8 303.9 357.2 302.9 358.9 302.7C360.5 302.6 360.0 303.5 361.7 303.6C363.3 303.7 362.8 302.9 364.4 303.0C366.0 303.1 365.5 303.6 367.2 304.0C368.9 304.5 367.9 303.4 370.1 304.4C372.3 305.4 373.0 305.6 374.4 307.3C375.8 309.0 374.5 308.5 374.8 310.2C375.0 311.9 374.9 311.3 375.2 313.1C375.5 314.8 376.1 314.2 375.8 315.9C375.5 317.6 375.0 317.0 374.4 318.8C373.7 320.6 374.5 320.3 373.7 322.0C372.9 323.7 372.9 323.0 371.8 324.5C370.8 326.1 371.2 325.5 370.2 327.2C369.2 328.9 369.7 328.5 368.6 330.3C367.5 332.1 367.8 331.4 366.5 333.1C365.3 334.7 365.0 334.0 364.4 335.8C363.8 337.6 364.6 337.2 364.5 339.2C364.5 341.2 364.3 340.5 364.1 342.5C363.8 344.5 363.8 343.9 363.7 345.8C363.6 347.7 363.3 347.1 363.7 348.8C364.2 350.6 364.6 349.8 365.3 351.5C365.9 353.2 365.5 352.5 365.9 354.4C366.3 356.3 366.5 355.7 366.5 357.7C366.6 359.7 366.1 359.1 365.9 361.1C365.7 363.1 365.6 362.6 365.9 364.4C366.2 366.2 366.1 365.6 366.9 367.0C367.8 368.4 367.9 367.7 368.8 369.1C369.8 370.4 369.4 369.9 370.2 371.5C371.0 373.1 370.3 372.9 371.4 374.5C372.4 376.1 372.7 375.3 373.6 377.0C374.6 378.6 373.8 378.4 374.5 380.1C375.2 381.8 375.6 381.0 376.1 382.8C376.5 384.5 375.8 384.1 376.1 385.9C376.5 387.7 376.6 386.9 377.3 388.7C378.0 390.5 378.1 390.0 378.4 391.9C378.8 393.9 378.4 393.3 378.5 395.3C378.6 397.4 378.4 396.9 378.7 398.7C379.0 400.5 379.0 399.8 379.6 401.5C380.1 403.2 380.2 402.5 380.5 404.3C380.9 406.0 380.0 405.8 380.8 407.2C381.6 408.6 382.1 407.6 383.1 408.9C384.2 410.2 383.7 409.7 384.4 411.5C385.1 413.3 385.4 412.8 385.4 414.8C385.3 416.8 384.3 416.2 384.2 418.2C384.1 420.2 385.1 419.5 385.1 421.5C385.1 423.5 384.7 422.8 384.1 424.8C383.5 426.7 383.3 426.0 383.0 428.0C382.6 430.0 382.9 430.5 382.9 431.5"/>
<path d="M370.0 453.0C369.6 454.3 369.9 455.2 368.6 457.3C367.3 459.4 366.6 459.3 365.8 460.1"/>
<path d="M157.4 311.5C157.6 312.4 157.6 312.7 158.0 314.4C158.4 316.1 159.4 315.9 158.8 317.2C158.2 318.5 157.6 317.8 155.8 318.8C154.1 319.9 154.1 319.4 153.1 320.8C152.1 322.2 152.5 321.8 152.6 323.4C152.7 325.0 153.3 324.4 153.4 326.0C153.6 327.6 153.8 327.1 153.1 328.6C152.4 330.1 152.3 329.5 151.0 330.9C149.7 332.2 149.9 331.5 148.8 333.0C147.7 334.5 147.5 333.8 147.3 335.8C147.1 337.8 147.3 337.5 148.2 339.6C149.1 341.8 149.0 341.4 150.2 343.0C151.4 344.6 151.2 343.7 152.0 345.1C152.8 346.6 152.1 346.4 152.9 347.9C153.6 349.3 153.9 348.6 154.5 350.1C155.1 351.6 154.6 351.3 155.0 353.0C155.4 354.7 156.2 354.4 155.9 355.8C155.6 357.2 155.3 356.7 154.0 357.7C152.7 358.7 152.7 358.0 151.6 359.2C150.5 360.3 150.0 360.0 150.2 361.6C150.4 363.2 151.0 362.8 152.3 364.5C153.6 366.2 153.6 365.0 154.5 367.3C155.4 369.6 155.9 370.6 155.2 372.3C154.5 374.0 153.9 372.7 152.0 373.1C150.1 373.5 150.0 374.5 148.8 373.7C147.6 372.9 148.8 372.3 147.9 370.5C147.1 368.8 147.8 368.6 145.9 368.0C144.0 367.4 143.3 367.0 141.6 368.7C139.9 370.4 141.6 371.9 140.2 373.7C138.8 375.5 138.8 373.9 136.9 374.6C134.9 375.3 134.4 374.5 133.7 375.9C133.0 377.3 134.2 377.3 134.4 379.4C134.6 381.5 133.8 380.7 134.5 383.0C135.2 385.3 136.2 384.9 136.6 387.0C137.0 389.1 136.4 388.3 135.8 390.0C135.2 391.8 135.1 391.2 134.5 392.9C133.9 394.6 134.0 394.0 133.8 395.8C133.5 397.5 134.1 397.1 133.7 398.8C133.2 400.5 132.5 399.8 132.3 401.5C132.1 403.2 132.5 402.7 132.9 404.4C133.2 406.2 132.9 405.6 133.4 407.3C133.9 409.0 133.9 408.4 134.5 410.1C135.1 411.8 135.1 411.1 135.5 412.9C136.0 414.6 135.3 414.2 135.9 415.9C136.4 417.6 136.9 416.7 137.3 418.6C137.7 420.5 136.9 420.2 137.4 422.3C137.8 424.5 138.5 423.7 138.7 425.8C138.9 427.9 138.3 427.2 137.9 429.4C137.5 431.5 137.1 430.8 137.3 433.0C137.5 435.2 137.6 434.5 138.5 436.7C139.4 438.8 138.8 438.8 140.2 440.1C141.6 441.4 141.5 440.3 143.3 441.0C145.1 441.7 144.6 441.4 146.2 442.4C147.9 443.4 147.4 443.0 148.8 444.4C150.2 445.8 149.3 445.8 150.8 447.1C152.3 448.4 152.7 447.4 153.8 448.7C154.9 450.0 154.2 449.8 154.6 451.5C155.0 453.2 155.0 452.6 155.2 454.4C155.3 456.1 155.0 455.5 155.2 457.3C155.4 459.1 155.2 458.6 155.9 460.4C156.5 462.2 156.4 461.5 157.3 463.2C158.1 464.8 157.9 464.2 158.8 465.9C159.7 467.6 159.7 466.9 160.3 468.8C160.9 470.6 160.7 470.0 160.8 472.0C160.9 474.0 160.9 473.3 160.7 475.3C160.5 477.3 160.0 476.8 160.1 478.6C160.2 480.4 160.8 479.6 161.2 481.4C161.6 483.1 160.7 482.6 161.5 484.3C162.3 486.0 162.6 485.2 163.9 486.9C165.2 488.7 165.2 489.1 165.8 490.0"/>
<path d="M158.1 398.6C158.5 399.4 159.1 399.6 159.4 401.3C159.8 403.1 158.9 402.8 159.3 404.5C159.8 406.3 160.5 405.5 160.9 407.2C161.3 408.9 161.1 408.5 160.5 410.2C159.9 411.9 159.5 411.2 158.7 412.8C158.0 414.5 158.2 414.0 158.1 415.8C158.0 417.6 158.5 417.0 158.5 418.7C158.5 420.4 158.3 419.9 158.0 421.6C157.7 423.3 158.4 423.2 157.4 424.4C156.4 425.6 155.9 424.5 154.5 425.7C153.2 427.0 154.2 427.2 152.9 428.5C151.6 429.9 151.1 428.8 150.2 430.1C149.3 431.4 150.0 431.2 150.0 433.0C150.0 434.7 149.6 434.2 150.2 435.8C150.8 437.4 151.0 436.7 152.1 438.2C153.3 439.6 152.9 439.1 154.1 440.6C155.2 442.0 155.6 440.8 155.9 443.0C156.2 445.2 155.4 446.5 155.2 448.0"/>
<path d="M155.9 445.1C156.8 445.3 157.1 445.5 158.8 445.6C160.6 445.7 160.0 445.9 161.7 445.4C163.4 444.9 162.8 444.2 164.5 443.9C166.2 443.6 166.5 444.3 167.4 444.4"/>
<path d="M156.0 458.0C156.3 458.8 156.4 459.0 157.0 460.6C157.6 462.1 157.4 461.6 158.0 463.2C158.7 464.7 158.3 464.2 159.1 465.7C159.9 467.1 160.0 466.4 160.7 468.0C161.4 469.6 160.8 469.3 161.6 471.0C162.3 472.6 162.2 472.0 163.3 473.4C164.3 474.9 164.8 474.3 165.0 475.9C165.2 477.5 164.0 476.9 163.9 478.7C163.8 480.4 164.9 480.0 164.8 481.7C164.7 483.5 163.6 482.9 163.6 484.5C163.6 486.1 164.1 485.6 164.7 487.2C165.4 488.9 165.5 489.2 165.8 490.0"/>
<path d="M251.6 355.8C251.7 356.7 251.7 356.9 251.9 358.7C252.1 360.4 252.7 359.9 252.3 361.5C251.9 363.1 251.3 362.4 250.5 364.1C249.6 365.9 249.6 365.3 249.5 367.2C249.4 369.1 249.4 368.7 250.3 370.4C251.1 372.1 251.9 371.3 252.3 373.0C252.7 374.7 252.3 374.3 251.7 376.0C251.0 377.6 250.7 376.9 250.1 378.6C249.4 380.3 249.8 379.9 249.5 381.6C249.2 383.3 249.2 382.7 248.9 384.4C248.7 386.1 248.8 385.5 248.7 387.2C248.7 389.0 248.7 388.4 248.7 390.1C248.7 391.8 248.8 391.3 248.6 393.1C248.4 394.8 248.5 394.3 248.0 395.9C247.4 397.6 247.4 397.0 246.8 398.6C246.1 400.3 246.3 399.6 245.9 401.4C245.5 403.2 245.4 402.7 245.5 404.8C245.6 406.8 246.2 406.1 246.3 408.1C246.4 410.2 245.6 409.4 245.9 411.5C246.2 413.6 246.5 412.9 247.3 415.1C248.1 417.2 248.6 416.6 248.7 418.6C248.8 420.6 248.4 419.9 247.5 421.6C246.7 423.3 246.6 422.6 245.9 424.3C245.2 426.0 245.5 425.4 245.2 427.1C244.9 428.9 244.8 428.3 244.9 430.0C245.0 431.7 245.4 431.2 245.5 432.9C245.6 434.7 245.2 434.0 245.2 435.8C245.2 437.6 244.7 437.2 245.4 438.9C246.2 440.6 246.9 439.7 247.7 441.3C248.5 443.0 248.2 442.4 248.0 444.4C247.8 446.4 247.4 445.8 247.2 447.9C247.0 450.0 247.0 449.6 247.3 451.5C247.6 453.4 247.2 452.9 248.2 454.3C249.2 455.7 249.7 454.8 250.6 456.3C251.5 457.8 250.6 457.6 251.3 459.2C252.0 460.8 252.2 460.0 253.0 461.6C253.8 463.2 253.5 462.7 253.9 464.5C254.3 466.2 253.7 465.8 254.3 467.5C254.9 469.2 255.2 468.5 255.9 470.1C256.6 471.7 256.5 471.2 256.6 472.9C256.7 474.6 256.3 474.1 256.4 475.8C256.4 477.5 256.7 476.7 256.7 478.6C256.7 480.5 256.3 480.0 256.4 482.0C256.4 484.0 256.6 483.3 257.0 485.3C257.3 487.3 257.3 487.6 257.4 488.6"/>
<path d="M252.3 373.0C253.0 372.5 253.1 372.1 254.6 371.2C256.1 370.3 256.3 371.7 257.3 370.1C258.3 368.5 257.9 367.1 258.1 365.8"/>
<path d="M207.2 380.1C207.7 381.2 207.8 381.5 208.7 383.7C209.6 385.8 209.1 385.7 210.1 387.3C211.1 388.9 210.9 388.0 212.1 389.1C213.4 390.1 213.2 389.5 214.3 390.7C215.4 391.9 214.8 391.4 215.8 393.0C216.8 394.6 216.2 394.5 217.5 396.2C218.8 397.9 219.0 397.1 220.1 398.7C221.2 400.3 221.0 399.7 221.2 401.4C221.4 403.1 221.0 402.4 220.8 404.3C220.6 406.2 220.7 405.7 220.4 407.9C220.2 410.1 219.7 409.5 220.1 411.5C220.5 413.5 220.5 413.0 221.8 414.7C223.1 416.4 222.7 416.2 224.4 417.2C226.1 418.2 225.8 417.2 227.5 418.1C229.3 419.0 228.5 419.1 230.1 420.1C231.7 421.2 231.2 420.9 233.0 421.5C234.8 422.1 234.2 422.0 236.2 422.0C238.2 422.0 237.6 421.4 239.5 421.5C241.5 421.6 240.8 422.0 242.7 422.4C244.6 422.8 244.9 422.7 245.9 422.9"/>
<path d="M197.2 398.6C198.1 398.9 198.3 399.1 200.1 399.5C201.8 399.9 201.8 399.1 203.0 400.0C204.2 400.9 203.4 401.1 204.1 402.6C204.8 404.1 204.5 403.6 205.4 405.0C206.4 406.4 205.9 405.7 207.2 407.2C208.5 408.7 208.0 408.6 209.7 409.9C211.4 411.2 211.0 410.8 213.0 411.5C215.0 412.2 214.4 412.0 216.5 412.2C218.6 412.4 219.0 412.2 220.1 412.2"/>
<path d="M158.6 399.4C158.7 400.2 158.7 400.5 158.9 402.1C159.1 403.7 158.8 403.2 159.2 404.7C159.5 406.3 160.1 405.7 160.0 407.3C159.9 408.9 159.5 408.4 158.9 410.0C158.3 411.7 158.4 411.1 158.0 412.8C157.6 414.5 157.8 413.9 157.6 415.7C157.3 417.4 157.8 416.9 157.2 418.6C156.6 420.3 156.0 419.5 155.6 421.3C155.3 423.1 156.3 422.8 155.9 424.6C155.5 426.3 155.4 425.8 154.3 427.2C153.2 428.6 153.5 428.1 152.2 429.4C150.9 430.7 150.7 430.9 150.0 431.5"/>
<path d="M245.9 424.3C246.6 423.9 246.7 423.5 248.2 422.9C249.8 422.3 249.4 422.8 250.9 422.3C252.4 421.7 251.8 421.6 253.3 421.0C254.8 420.3 254.3 420.6 255.9 420.1C257.5 419.6 257.1 419.9 258.7 419.3C260.4 418.8 260.7 418.6 261.5 418.3"/>
<path d="M177.2 492.9C177.9 493.7 178.2 493.9 179.5 495.6C180.8 497.3 180.6 496.8 181.5 498.6C182.4 500.4 181.5 500.0 182.4 501.7C183.2 503.5 183.0 503.1 184.4 504.3C185.8 505.5 185.3 505.3 187.1 505.8C188.9 506.2 188.5 505.4 190.3 505.8C192.0 506.3 191.7 505.8 193.0 507.2C194.3 508.6 193.4 508.7 194.7 510.4C196.0 512.1 195.7 511.8 197.3 512.9C198.9 514.0 198.3 513.7 200.1 514.1C201.9 514.4 201.5 513.7 203.3 514.2C205.0 514.7 204.1 514.9 205.9 515.8C207.7 516.7 207.2 516.7 209.3 517.2C211.4 517.6 211.0 516.7 213.0 517.2C215.0 517.7 214.3 517.6 216.0 518.7C217.8 519.8 216.8 519.8 218.7 520.8C220.6 521.8 220.2 521.1 222.4 522.0C224.6 522.8 223.8 522.9 225.9 523.7C228.0 524.5 227.4 524.0 229.5 524.6C231.7 525.3 231.4 524.8 233.1 525.8C234.8 526.8 233.9 526.8 235.2 528.0C236.4 529.3 236.4 528.7 237.4 530.1C238.4 531.5 238.2 531.1 238.4 532.9C238.6 534.6 237.9 534.1 238.1 535.9C238.2 537.6 238.3 536.9 238.8 538.7C239.3 540.5 238.9 540.1 239.8 541.8C240.6 543.5 240.6 542.7 241.6 544.4C242.6 546.0 242.4 545.6 243.0 547.2C243.6 548.8 243.1 548.4 243.7 549.9C244.3 551.4 244.3 550.8 245.0 552.3C245.6 553.8 245.1 553.4 245.8 554.9C246.5 556.4 246.4 555.7 247.3 557.2C248.2 558.7 248.1 558.2 248.7 559.9C249.3 561.6 248.9 561.1 249.4 562.9C249.8 564.6 249.3 564.2 250.1 565.8C250.9 567.4 250.8 566.8 252.1 568.1C253.4 569.4 253.3 568.7 254.4 570.2C255.6 571.6 254.9 571.2 255.9 572.9C256.9 574.6 256.4 574.3 257.8 575.8C259.1 577.3 258.9 576.6 260.5 577.8C262.1 579.1 261.4 578.9 263.0 580.1C264.6 581.3 264.4 580.5 265.9 581.8C267.4 583.1 267.3 582.8 268.0 584.4C268.7 586.0 267.9 585.6 268.1 587.3C268.3 589.0 268.4 588.4 268.6 590.1C268.8 591.8 268.4 591.1 268.7 593.0C269.0 594.9 269.3 594.4 269.6 596.5C269.8 598.6 268.7 598.3 269.5 600.1C270.3 601.9 270.9 600.9 272.4 602.6C273.9 604.3 273.0 604.4 274.5 605.8C276.0 607.2 275.6 606.5 277.4 607.2C279.2 607.9 278.8 607.2 280.5 608.1C282.2 609.0 281.8 608.6 283.1 610.1C284.4 611.6 283.8 611.3 284.9 613.0C286.1 614.7 285.7 614.1 286.9 615.8C288.0 617.6 287.5 617.1 288.8 618.7C290.1 620.3 290.2 619.4 291.2 621.3C292.2 623.1 291.1 622.9 292.1 624.7C293.1 626.6 293.0 626.0 294.5 627.3C296.0 628.6 295.8 627.7 297.1 629.0C298.4 630.3 298.3 630.8 298.8 631.6"/>
<path d="M145.8 492.9C145.7 494.0 145.9 494.4 145.4 496.6C145.0 498.7 145.1 498.3 144.3 500.1C143.5 501.9 143.6 501.1 142.8 502.7C142.0 504.3 142.4 503.8 141.6 505.4C140.8 507.0 140.5 507.1 140.0 507.9"/>
</g>
<g fill="#6cb81c" stroke="#6cb81c" stroke-width="0.8" stroke-linejoin="round">
<polygon points="550.2,150.8 553.1,150.8 556.0,150.1 556.0,152.4 556.5,154.7 556.9,157.0 556.9,159.3 557.1,161.6 553.8,164.4 551.4,164.0 549.1,163.2 546.7,163.0 549.5,160.1 549.5,157.8 549.8,155.4 550.1,153.1"/>
<polygon points="461.9,162.1 464.5,162.5 466.8,163.9 469.4,164.3 472.3,164.6 475.1,164.1 478.0,164.3 478.7,165.9 475.8,168.6 471.5,169.4 470.1,167.7 468.7,165.9 466.4,164.7 464.2,163.2"/>
<polygon points="485.5,171.8 487.5,169.3 488.7,166.4 491.5,166.0 494.1,164.8 495.2,167.0 495.9,169.3 496.2,171.8 497.5,174.2 499.4,176.1 496.7,176.9 494.1,178.2 491.4,178.6 488.7,179.3 487.5,176.9 486.7,174.3"/>
<polygon points="501.6,181.5 503.6,180.2 505.9,179.3 508.0,178.2 512.3,178.8 509.1,181.5 506.5,183.2 503.7,184.7 503.6,189.0 503.7,192.8 500.5,193.3 500.6,190.0 500.4,186.8 501.1,184.2"/>
<polygon points="455.6,226.9 456.7,224.6 458.2,222.6 460.7,220.9 463.6,219.9 466.3,219.6 468.9,219.3 471.6,219.0 474.3,219.3 477.0,222.6 479.2,223.8 481.3,225.2 478.3,225.3 475.4,226.3 473.1,227.7 471.1,229.5 468.6,229.5 466.1,230.3 463.6,230.3 460.4,230.2 457.2,230.1"/>
<polygon points="450.2,216.1 452.4,213.8 454.5,211.3 456.1,215.1 456.7,217.5 457.4,219.8 458.5,222.0 455.6,223.0 455.2,220.0 454.0,217.2"/>
<polygon points="466.8,237.6 469.3,237.5 471.8,237.2 474.3,236.5 476.8,235.4 479.3,234.1 481.9,233.3 484.5,231.7 484.0,234.4 481.7,236.1 478.9,236.7 476.5,238.1 473.3,238.7 470.0,239.2"/>
<polygon points="437.2,189.0 438.1,186.8 439.3,184.7 440.1,182.4 441.6,180.4 442.5,178.2 445.0,176.8 447.9,176.1 449.8,174.5 451.6,172.8 453.2,171.0 455.4,169.7 458.6,168.6 458.6,171.1 459.1,173.5 458.7,176.0 459.0,178.4 459.0,180.9 458.7,183.3 458.6,185.8 456.3,187.1 454.3,189.0 451.7,189.9 449.0,190.1 445.8,192.2 444.7,190.2 444.1,187.9 440.4,189.0"/>
<polygon points="411.6,191.5 413.9,189.8 416.6,189.0 418.8,187.2 419.9,184.8 421.8,183.0 422.7,180.5 424.5,178.6 426.7,179.1 428.8,180.1 430.6,182.2 433.1,183.6 431.2,186.3 428.8,188.6 426.8,189.9 425.0,191.5 423.1,192.9 421.2,194.1 419.3,195.3 417.4,196.5 415.3,195.1 413.7,192.9"/>
<polygon points="402.3,272.2 403.5,270.0 404.6,267.9 405.9,265.8 408.1,264.3 410.9,263.7 413.1,262.2 415.5,261.4 418.1,261.5 418.1,264.4 417.7,267.2 418.1,270.1 417.8,272.4 416.6,274.3 415.9,276.5 413.1,276.0 410.2,275.8 410.5,273.2 411.6,270.8 408.8,271.5 407.3,274.4 404.8,273.4"/>
<polygon points="380.1,290.1 382.5,288.7 384.9,287.2 387.3,285.8 389.5,284.9 391.4,283.7 393.7,283.0 393.7,285.4 393.9,287.8 394.5,290.1 392.5,291.9 390.9,294.1 388.7,295.8 386.5,297.9 384.4,300.1 382.5,298.8 380.9,297.3 378.4,297.6 375.8,297.3 377.6,295.1 379.1,292.8"/>
<polygon points="420.2,288.7 422.1,287.2 424.0,285.9 425.9,284.4 429.0,283.3 431.7,281.5 433.1,283.6 434.5,285.8 432.1,287.0 429.7,288.1 427.4,289.4 425.0,289.5 422.6,288.9"/>
<polygon points="434.5,291.5 436.9,290.5 439.4,289.8 441.7,288.7 443.7,291.0 446.0,293.0 447.0,295.0 447.9,297.1 448.2,299.4 448.8,301.6 448.3,303.8 447.1,305.8 446.5,307.9 446.0,310.1 446.0,314.4 443.9,312.2 441.7,310.1 440.7,307.9 439.7,305.8 438.2,303.9 437.4,301.6 436.6,299.1 435.6,296.6 435.6,293.9"/>
<polygon points="317.9,279.4 320.7,278.1 323.6,277.2 326.4,277.9 329.3,278.4 332.2,278.7 332.2,281.5 329.8,280.9 327.4,281.3 325.0,280.8 321.9,281.8 318.6,282.2"/>
<polygon points="302.9,274.4 305.7,273.6 305.7,276.5 302.9,276.5"/>
<polygon points="296.0,277.0 298.0,276.0 298.0,279.5 296.0,279.5"/>
<polygon points="382.9,438.7 385.4,438.0 388.0,437.5 390.1,438.1 392.3,438.8 394.4,439.5 394.4,442.2 392.1,442.3 389.7,442.4 387.3,442.3 385.0,442.5"/>
<polygon points="333.0,510.8 335.4,510.6 337.8,510.6 340.1,510.1 339.9,512.5 340.8,514.8 340.8,517.2 339.8,519.5 339.2,521.9 338.7,524.4 337.1,526.2 336.1,528.4 334.4,530.1 333.3,532.3 331.6,534.0 330.1,535.9 329.3,533.6 328.0,531.6 326.7,529.6 325.8,527.3 327.3,524.4 328.7,521.5 329.6,518.6 330.8,515.8 332.2,513.4"/>
<polygon points="338.0,533.0 340.0,531.5 342.3,530.7 344.4,529.4 346.9,529.4 349.4,529.4 351.9,529.9 354.4,530.1 355.2,533.0 353.5,534.9 351.8,536.8 350.1,538.7 347.7,539.2 345.4,539.9 343.0,540.1 342.1,542.4 340.8,544.4 338.6,545.0 336.6,546.0 336.2,543.4 336.2,540.6 335.8,538.0 337.2,535.6"/>
<polygon points="291.6,547.2 294.1,546.6 296.5,546.0 298.8,545.0 301.3,545.2 303.8,545.4 306.3,545.4 308.8,545.7 308.1,548.5 308.5,551.5 308.1,554.3 309.6,556.5 310.7,559.0 311.7,561.5 309.4,563.1 307.0,564.5 304.5,565.8 301.7,566.3 298.8,566.7 295.9,566.5 294.3,564.6 292.9,562.7 291.7,560.5 290.2,558.6 289.6,555.8 289.5,552.9 290.1,549.9"/>
<polygon points="174.3,608.7 176.3,607.6 178.0,606.0 179.8,604.6 181.4,603.0 184.3,603.8 187.2,603.7 187.8,606.2 187.9,608.7 185.3,610.7 182.9,613.0 181.1,614.5 180.0,616.6 178.9,614.6 177.2,613.0 175.8,610.8"/>
<polygon points="172.9,620.9 175.4,620.0 178.1,619.9 180.6,619.3 183.1,618.6 185.7,618.0 186.9,620.5 187.4,623.4 188.6,625.9 187.9,630.2 190.2,632.6 192.9,634.5 193.8,637.9 191.3,638.2 188.8,638.6 186.3,639.7 183.9,641.0 181.5,642.3 178.8,642.9 176.8,641.8 175.0,640.5 173.1,639.4 174.6,637.0 177.0,635.3 178.6,633.0 177.6,630.2 177.2,627.3 175.5,625.3 174.0,623.3"/>
<polygon points="215.8,615.9 219.4,615.1 221.8,616.7 224.8,617.2 227.2,618.7 227.7,621.5 227.2,624.4 224.9,624.7 223.0,626.2 220.8,626.6 216.5,625.9 215.4,623.1 215.1,620.1"/>
<polygon points="238.0,615.9 238.3,618.9 239.4,621.6 235.8,621.6 237.3,618.9"/>
<polygon points="241.6,615.1 244.5,614.6 247.3,613.7 249.7,614.0 252.0,613.4 254.4,613.7 254.7,616.3 255.9,618.7 254.3,620.7 252.3,622.3 250.6,620.0 248.7,618.0 244.4,618.0"/>
<polygon points="243.7,631.6 245.8,630.4 248.0,629.4 250.5,629.4 252.9,628.8 255.2,628.0 255.1,630.5 254.4,633.0 252.1,634.1 250.1,635.8 248.0,637.3 244.4,635.2"/>
<polygon points="106.6,500.8 109.1,500.7 111.6,499.8 114.1,499.4 116.6,499.3 117.4,502.9 114.5,503.3 111.7,504.3 108.8,504.3"/>
<polygon points="141.0,512.9 143.5,513.8 146.0,514.4 146.0,516.5 143.6,515.6 141.0,515.1"/>
<polygon points="440.0,288.7 442.5,288.5 445.0,289.0 446.2,291.1 446.6,293.4 447.9,295.5 448.8,297.7 449.3,300.0 448.8,302.5 448.2,305.0 447.9,307.6 447.0,310.0 445.6,312.3 444.0,314.4 443.3,311.9 441.7,309.8 440.7,307.5 440.0,305.0 439.5,302.7 439.7,300.3 439.6,298.0 440.5,295.7 439.8,293.4 440.5,291.0"/>
</g>
<circle cx="302.6" cy="553.4" r="1.5" fill="#fff"/>
<circle cx="334.6" cy="515.3" r="1.3" fill="#fff"/>
<circle cx="344.5" cy="535.5" r="1.2" fill="#fff"/>
<circle cx="181.0" cy="633.5" r="1.2" fill="#fff"/>
<circle cx="410.3" cy="272.3" r="1.0" fill="#fff"/>
<polygon points="300.0,235.9 302.7,234.2 305.7,233.0 308.7,233.2 311.4,234.4 314.2,236.0 317.2,237.3 320.1,235.0 323.6,233.7 326.1,235.5 328.6,237.3 331.5,238.6 334.3,240.2 336.0,237.6 338.6,235.9 341.5,233.8 344.4,231.6 347.0,229.6 350.1,228.7 353.6,228.6 357.2,228.7 358.1,226.0 359.6,223.7 361.5,221.6 362.8,219.1 364.8,217.0 365.8,214.4 364.9,211.6 365.1,208.7 367.9,207.6 370.8,207.2 372.2,204.9 373.8,202.8 374.4,200.1 376.4,197.8 378.1,195.2 380.1,192.9 382.7,191.2 384.4,188.6 386.9,186.4 390.4,185.7 393.0,183.6 397.3,185.1 400.0,182.4 403.0,180.1 405.1,178.0 407.5,176.3 410.2,175.0 412.9,172.7 415.9,170.8 418.9,170.1 421.6,168.6 423.0,170.5 425.4,168.6 426.4,164.3 428.6,162.5 430.0,164.3 430.4,168.6 432.0,171.0 436.0,170.5 438.6,168.6 439.3,165.0 442.2,163.3 446.5,164.7 449.3,163.6 447.9,161.5 444.3,159.3 443.3,156.5 445.0,152.9 444.7,147.9 447.2,145.7 450.1,143.6 451.1,140.0 449.3,137.2 450.4,134.5 452.2,132.2 455.1,130.1 457.9,127.9 458.8,125.5 459.4,122.9 461.8,121.3 464.4,120.0 466.9,121.2 469.4,122.2 473.7,122.9 475.4,120.3 478.0,118.6 478.9,115.8 480.8,113.6 484.0,112.5 487.3,112.2 490.9,111.0 494.4,109.3 497.3,110.0 500.1,110.8 503.1,112.0 505.9,113.6 509.4,114.4 513.0,115.0 516.6,114.6 520.2,114.3 523.2,111.9 526.6,110.0 529.9,109.3 533.0,107.9 536.7,106.7 540.2,105.0 542.9,103.5 546.0,102.8 548.8,101.5 552.0,99.4 555.2,97.2 558.8,93.6 559.4,90.0 562.2,90.3 565.0,89.9 567.7,89.3 571.1,90.1 574.4,91.5 576.8,93.1 579.8,92.9 582.2,94.3 585.5,95.6 588.7,97.2 590.1,99.6 592.4,101.2 593.7,103.6 595.8,105.8 598.4,107.5 600.1,110.1 602.7,108.5 605.3,106.8 607.7,104.8 610.1,102.9 612.7,101.7 614.6,99.5 617.2,98.3 619.4,96.5 622.5,96.1 625.6,95.6 628.7,95.0 630.6,97.9 632.3,100.8 633.3,103.4 634.6,105.9 636.6,107.9 639.2,107.9 641.9,108.1 644.5,107.9 645.2,111.5 648.2,110.4 651.4,110.8 654.5,110.1 657.9,109.7 661.3,109.6 664.5,108.4 662.4,112.9 661.2,116.0 660.9,119.4 659.4,122.7 657.4,125.8 656.6,128.7 655.2,131.5 654.5,134.4 655.6,137.2 655.5,140.1 655.9,143.0 655.7,146.6 654.6,150.0 653.6,153.1 651.7,155.7 650.4,158.9 648.1,161.4 647.4,164.3 647.4,167.2 645.6,170.0 643.1,172.2 640.5,174.6 637.4,176.5 634.6,177.7 631.7,178.6 628.5,180.3 625.9,182.9 623.2,184.2 620.2,184.3 616.6,183.8 613.1,183.2 609.9,183.2 606.6,182.9 603.4,183.1 600.2,183.6 597.0,185.3 594.5,187.9 591.8,190.0 588.7,191.5 585.8,190.2 583.0,188.6 581.4,185.8 580.1,182.9 577.8,181.4 575.1,180.8 572.3,181.6 570.1,183.6 569.9,186.4 569.1,189.0 568.0,191.5 567.6,194.4 566.5,197.2 562.3,197.9 558.7,194.4 556.3,191.7 554.4,188.6 551.5,188.3 548.7,187.9 545.4,188.1 542.2,188.6 540.1,186.5 537.1,186.1 534.3,185.1 532.6,182.1 532.2,178.6 530.3,175.8 528.6,172.9 525.7,172.7 522.9,172.2 518.6,174.3 518.5,177.2 518.0,180.0 518.6,182.9 519.8,185.5 521.5,187.9 519.3,189.7 517.2,191.5 517.4,194.7 517.9,197.9 520.6,199.9 523.6,201.5 525.3,204.1 525.8,207.2 524.8,210.7 525.0,214.4 522.3,215.5 520.0,217.3 519.5,220.2 520.0,223.0 522.7,224.8 525.8,225.9 530.1,224.4 532.0,227.2 533.6,230.1 535.6,231.9 537.9,233.6 539.4,235.9 542.4,237.0 545.8,237.2 548.7,238.7 551.8,237.4 555.1,237.3 554.5,240.2 553.1,242.9 552.1,246.0 550.2,248.6 550.8,252.2 550.9,255.8 553.9,258.2 555.9,261.5 558.3,264.4 559.5,267.9 554.5,268.6 552.0,266.8 550.2,264.3 548.8,268.6 550.7,271.3 551.6,274.4 553.5,276.4 555.2,278.7 554.8,282.4 553.1,285.8 550.5,288.3 548.8,291.5 547.2,295.0 545.9,298.7 541.6,301.6 538.7,298.0 535.2,298.5 531.6,298.0 528.6,297.2 525.9,295.8 523.9,293.8 522.3,291.5 521.8,295.1 520.9,298.7 520.4,301.7 518.5,304.3 518.0,307.3 520.0,310.0 523.0,311.6 524.5,313.9 525.9,316.3 527.3,318.7 525.6,321.2 523.1,322.9 521.4,326.1 518.8,328.6 518.3,331.5 517.4,334.3 514.7,336.7 511.7,338.6 509.8,342.0 508.8,345.8 505.4,347.6 501.6,348.6 498.3,350.7 494.5,351.5 491.5,351.3 488.8,352.4 485.9,352.9 482.3,353.4 478.7,352.9 479.7,355.8 480.9,358.7 479.3,361.9 476.6,364.4 476.9,367.3 477.3,370.1 478.7,372.5 480.7,374.3 483.0,375.8 485.7,378.2 488.8,380.1 488.0,383.8 486.6,387.3 489.3,388.1 492.0,388.7 494.5,390.1 495.2,393.8 496.6,397.2 495.5,400.8 494.5,404.5 491.7,405.5 489.2,407.2 486.2,407.0 483.1,406.6 480.2,405.8 477.0,406.0 473.9,406.3 471.0,407.6 468.2,408.6 465.9,410.5 465.2,413.2 465.0,415.9 465.2,418.6 462.8,421.2 460.9,424.3 459.5,426.9 457.5,429.1 455.9,431.5 454.5,434.4 456.8,437.1 458.8,440.1 459.8,443.6 459.5,447.2 458.8,451.5 455.9,455.8 455.8,459.5 454.5,463.0 451.0,464.0 447.3,464.4 444.9,465.8 442.3,466.6 440.8,464.3 439.5,461.9 437.3,460.1 435.3,457.3 434.0,454.0 431.6,451.5 429.2,448.5 425.9,446.5 423.5,445.0 420.6,444.8 418.0,443.7 414.9,445.1 411.6,445.8 407.3,448.7 404.6,450.4 401.5,451.5 401.2,455.2 400.1,458.7 395.8,461.6 396.7,464.1 396.6,466.8 397.3,469.4 397.6,472.9 398.5,476.2 399.8,479.4 400.4,482.9 401.0,486.5 403.8,490.0 401.5,492.3 399.2,494.5 397.4,497.2 396.5,500.0 394.3,502.1 392.6,504.4 391.6,507.2 390.1,509.4 389.0,511.8 388.1,514.4 387.4,519.4 383.1,518.0 379.5,518.4 375.9,518.7 373.2,520.2 370.2,520.8 367.1,523.0 364.5,525.8 362.7,527.9 360.3,529.4 358.7,531.6 354.4,534.4 351.7,536.9 350.1,540.1 347.3,541.7 344.4,543.0 340.1,545.9 337.3,548.0 336.1,544.8 335.1,541.6 331.7,542.1 328.7,543.7 325.1,547.3 324.1,550.4 323.7,553.6 322.3,556.4 320.2,558.7 317.7,556.5 316.0,553.7 313.3,555.2 310.2,555.8 306.7,555.9 303.4,557.2 301.3,560.5 302.9,563.4 305.2,565.8 302.5,567.0 299.5,567.2 299.8,570.2 300.9,573.0 298.8,576.5 295.9,576.2 293.1,577.2 290.2,577.7 287.4,578.6 284.6,579.1 281.7,579.1 278.8,579.4 276.1,581.3 273.0,582.2 273.0,585.6 271.6,588.7 268.7,593.0 272.2,594.3 275.9,594.4 277.5,596.7 279.5,598.7 280.2,601.6 280.9,604.4 282.4,606.7 284.8,608.1 286.6,610.1 289.6,612.7 293.1,614.4 294.9,617.5 297.4,620.1 298.8,623.6 299.5,627.3 299.5,630.7 298.0,633.4 295.9,635.7 292.4,636.7 288.8,637.2 286.5,638.9 283.8,640.0 284.4,642.9 285.2,645.8 288.8,648.6 287.6,651.3 285.9,653.6 280.9,653.6 280.0,656.9 278.8,660.1 277.8,663.8 275.9,667.2 272.3,669.4 268.7,666.5 265.5,668.6 263.0,671.5 261.4,673.8 259.4,675.8 257.6,672.6 255.9,669.4 254.1,666.7 252.5,663.8 250.1,661.5 248.6,658.7 247.3,655.8 247.1,652.1 245.8,648.6 244.9,645.7 244.0,642.9 243.0,640.0 241.6,637.1 240.1,634.3 239.1,630.8 239.4,627.2 236.5,625.1 233.7,622.9 229.4,625.7 228.3,628.8 226.5,631.4 224.0,632.6 221.2,632.0 218.7,632.9 215.0,632.2 211.5,630.7 208.6,631.0 205.7,630.9 202.9,631.4 200.1,630.6 197.1,630.2 194.3,629.3 190.7,629.6 187.2,630.0 189.3,631.9 191.5,633.6 192.2,636.3 193.6,638.6 190.5,639.5 187.2,639.3 183.6,640.7 180.0,642.2 177.1,641.8 174.3,640.8 171.0,642.9 167.4,644.4 164.3,645.8 161.6,647.9 159.2,649.1 156.8,650.2 154.5,651.5 150.8,652.6 147.3,654.4 144.2,655.3 141.6,657.2 140.2,660.1 138.7,663.0 137.2,665.8 135.9,668.7 135.4,671.6 134.9,674.4 134.5,677.3 136.4,679.6 138.7,681.6 141.6,681.9 144.5,682.3 143.0,685.5 141.6,688.7 138.7,693.0 136.3,694.5 133.6,695.3 131.6,697.3 127.9,698.5 124.4,700.2 121.4,701.7 118.9,704.0 116.5,706.1 115.4,709.1 113.3,711.3 109.6,711.9 106.0,712.7 103.0,714.0 100.8,716.4 97.6,715.2 94.2,714.9 91.1,714.7 88.2,713.9 85.4,712.7 82.4,711.3 79.2,710.3 76.5,708.3 72.1,710.5 69.3,711.9 66.2,712.7 62.5,712.9 58.9,712.0 54.5,714.2 54.0,711.2 53.4,708.2 52.3,705.4 53.8,703.1 53.8,700.3 55.2,698.0 56.2,694.4 56.7,690.7 54.2,689.0 51.5,687.7 53.3,685.1 55.9,683.3 55.2,680.6 54.1,678.1 52.3,675.9 50.7,673.6 50.4,670.7 48.6,668.6 47.5,665.9 46.6,663.2 45.6,660.5 44.8,657.9 42.9,655.9 40.8,653.6 37.9,652.5 35.8,650.2 33.4,648.8 31.0,647.3 28.6,645.9 27.9,641.6 26.6,638.8 25.8,635.8 26.5,630.8 30.8,628.7 34.3,627.3 33.2,623.8 32.9,620.1 34.9,618.1 37.2,616.5 40.1,616.3 42.8,614.9 45.8,615.1 48.7,614.7 51.5,614.1 54.4,613.7 56.8,611.0 60.1,609.4 63.1,609.7 66.0,610.5 69.1,611.2 72.3,611.5 70.6,608.7 68.4,606.1 67.3,603.0 65.4,600.1 62.8,597.9 60.1,595.8 59.0,593.2 56.4,591.6 54.9,589.2 53.1,587.1 52.3,584.3 50.1,582.4 48.7,580.0 46.4,578.4 44.8,576.1 42.9,574.0 41.6,570.7 39.4,568.0 38.3,565.4 36.2,563.4 35.1,560.9 33.2,558.5 32.7,555.4 30.8,553.0 29.2,550.1 27.7,547.1 25.8,544.4 26.3,541.7 27.9,539.4 25.4,538.2 23.8,535.9 21.5,534.4 23.9,531.5 26.5,528.7 22.2,528.0 18.6,524.4 18.4,521.1 19.3,517.9 21.6,519.6 24.3,520.1 26.3,522.4 28.3,524.7 30.8,526.5 33.5,527.1 35.8,528.7 38.8,528.7 41.4,527.1 44.4,527.2 47.3,527.5 50.1,526.7 53.0,526.5 54.4,523.7 57.9,523.1 61.5,522.9 64.8,521.9 68.0,520.8 68.1,518.1 66.7,515.6 66.5,512.9 64.6,509.5 63.7,505.8 61.2,504.0 58.7,502.2 57.3,499.5 56.5,496.5 54.6,493.5 53.7,490.0 52.2,487.7 51.5,485.0 54.1,484.4 56.8,484.6 59.4,485.0 60.9,482.4 62.9,480.2 65.2,478.8 67.9,478.1 70.1,476.6 72.6,475.6 75.3,475.2 77.9,474.5 80.1,471.3 82.9,468.7 85.2,465.7 87.9,463.0 86.2,460.4 85.8,457.3 84.4,453.8 83.7,450.1 82.8,447.3 83.5,444.3 82.9,441.5 80.4,440.0 77.9,438.7 79.4,436.3 81.5,434.4 83.7,430.1 86.2,427.2 88.7,424.4 90.7,421.0 91.5,417.2 87.8,416.7 84.4,415.1 81.7,413.7 78.6,413.3 75.8,412.2 72.9,411.0 70.2,409.4 67.2,408.6 63.9,407.3 60.8,405.8 61.9,402.9 62.9,400.0 65.9,398.1 68.6,395.7 71.3,395.1 73.3,393.2 75.8,392.2 78.9,391.2 81.7,389.6 84.4,387.9 87.3,387.4 90.1,386.3 93.0,385.7 95.8,384.6 98.5,383.2 101.5,382.9 104.2,381.3 107.0,380.1 110.1,379.5 110.8,375.2 109.8,372.7 108.0,370.7 106.6,368.4 105.8,365.9 103.9,363.7 103.4,360.6 102.0,358.1 100.1,355.8 98.9,352.8 97.0,350.2 95.5,347.4 94.4,344.4 98.0,344.5 101.5,345.1 103.7,348.0 106.3,347.2 108.8,346.1 111.6,345.8 114.4,343.9 117.3,342.2 120.2,342.6 123.0,343.7 125.9,342.4 128.0,340.1 129.7,336.7 130.2,332.9 131.7,330.4 133.0,327.9 135.6,325.5 138.7,323.6 141.4,323.0 143.4,321.0 145.9,320.1 148.2,318.7 150.4,317.1 153.1,316.5 154.5,311.5 156.9,309.9 159.5,308.6 162.7,310.0 165.9,311.5 167.3,314.0 168.8,316.5 171.9,318.3 174.5,320.8 176.3,318.3 178.1,315.8 180.1,312.4 183.1,310.0 183.9,307.0 185.3,304.3 182.4,303.0 180.2,300.7 181.4,298.2 182.9,295.9 184.0,293.1 185.7,290.7 187.9,288.7 191.0,286.7 194.3,285.1 196.5,283.6 199.2,282.9 201.5,281.6 202.9,278.0 206.5,277.7 210.1,277.3 213.7,276.9 217.2,275.8 220.1,272.3 223.0,272.3 225.9,272.1 228.7,271.5 231.2,274.1 234.4,275.8 237.9,274.3 241.6,273.0 244.0,272.0 246.8,272.2 249.0,270.4 251.6,270.1 253.7,268.4 255.5,266.4 257.3,264.4 258.2,261.3 260.2,258.7 263.2,258.0 265.9,256.5 267.5,253.5 268.0,250.1 267.5,247.2 266.6,244.3 266.6,241.1 265.9,237.9 269.0,235.7 271.6,232.9 272.2,229.9 273.8,227.2 277.4,225.7 280.2,227.9 283.1,230.0 286.6,231.5 290.2,232.9 292.9,234.3 295.8,235.2 298.8,235.8" fill="none" stroke="#1e1e1e" stroke-width="2.2" stroke-linejoin="round"/>
<text class="lbl" x="445.4" y="103.6" text-anchor="start">Stamford</text>
<text class="lbl" x="557.4" y="173.6" text-anchor="start">Peterborough</text>
<text class="lbl" x="459.1" y="254.8" text-anchor="start">Oundle</text>
<text class="lbl" x="340.1" y="248.7" text-anchor="start">Corby</text>
<text class="lbl" x="345.3" y="322.8" text-anchor="end">Kettering &amp;</text>
<text class="lbl" x="348.0" y="331.6" text-anchor="end">Barton Seagrave</text>
<text class="lbl" x="455.9" y="324.4" text-anchor="end">Thrapston</text>
<text class="lbl" x="437.6" y="333.6" text-anchor="start">&amp; Islip</text>
<text class="lbl" x="364.9" y="417.5" text-anchor="end">Wellingborough</text>
<text class="lbl" x="420.3" y="415.6" text-anchor="middle">Rushden &amp;</text>
<text class="lbl" x="414.6" y="423.7" text-anchor="middle">Higham Ferrers</text>
<text class="lbl" x="93.9" y="455.7" text-anchor="start">Daventry</text>
<text class="lbl" x="222.1" y="461.0" text-anchor="start">Northampton</text>
<text class="lbl" x="174.9" y="575.1" text-anchor="start">Towcester</text>
<text class="lbl" x="94.8" y="663.3" text-anchor="start">Brackley</text>
<polygon points="480.1,105.6 481.0,108.0 483.5,108.1 481.5,109.7 482.2,112.1 480.1,110.7 478.0,112.1 478.7,109.7 476.7,108.1 479.2,108.0" fill="#f4f4f4" stroke="#111" stroke-width="0.95" stroke-linejoin="miter"/>
<polygon points="607.0,176.3 607.9,178.7 610.4,178.8 608.4,180.4 609.1,182.8 607.0,181.4 604.9,182.8 605.6,180.4 603.6,178.8 606.1,178.7" fill="#f4f4f4" stroke="#111" stroke-width="0.95" stroke-linejoin="miter"/>
<polygon points="487.9,256.3 488.8,258.7 491.3,258.8 489.3,260.4 490.0,262.8 487.9,261.4 485.8,262.8 486.5,260.4 484.5,258.8 487.0,258.7" fill="#f4f4f4" stroke="#111" stroke-width="0.95" stroke-linejoin="miter"/>
<polygon points="363.7,251.6 364.6,254.0 367.1,254.1 365.1,255.7 365.8,258.1 363.7,256.7 361.6,258.1 362.3,255.7 360.3,254.1 362.8,254.0" fill="#f4f4f4" stroke="#111" stroke-width="0.95" stroke-linejoin="miter"/>
<polygon points="351.3,333.5 352.2,335.9 354.7,336.0 352.7,337.6 353.4,340.0 351.3,338.6 349.2,340.0 349.9,337.6 347.9,336.0 350.4,335.9" fill="#f4f4f4" stroke="#111" stroke-width="0.95" stroke-linejoin="miter"/>
<polygon points="462.3,335.6 463.2,338.0 465.7,338.1 463.7,339.7 464.4,342.1 462.3,340.7 460.2,342.1 460.9,339.7 458.9,338.1 461.4,338.0" fill="#f4f4f4" stroke="#111" stroke-width="0.95" stroke-linejoin="miter"/>
<polygon points="368.3,419.9 369.2,422.3 371.7,422.4 369.7,424.0 370.4,426.4 368.3,425.0 366.2,426.4 366.9,424.0 364.9,422.4 367.4,422.3" fill="#f4f4f4" stroke="#111" stroke-width="0.95" stroke-linejoin="miter"/>
<polygon points="422.3,429.2 423.2,431.6 425.7,431.7 423.7,433.3 424.4,435.7 422.3,434.3 420.2,435.7 420.9,433.3 418.9,431.7 421.4,431.6" fill="#f4f4f4" stroke="#111" stroke-width="0.95" stroke-linejoin="miter"/>
<polygon points="116.6,462.2 117.5,464.6 120.0,464.7 118.0,466.3 118.7,468.7 116.6,467.3 114.5,468.7 115.2,466.3 113.2,464.7 115.7,464.6" fill="#f4f4f4" stroke="#111" stroke-width="0.95" stroke-linejoin="miter"/>
<polygon points="269.5,462.9 270.4,465.3 272.9,465.4 270.9,467.0 271.6,469.4 269.5,468.0 267.4,469.4 268.1,467.0 266.1,465.4 268.6,465.3" fill="#f4f4f4" stroke="#111" stroke-width="0.95" stroke-linejoin="miter"/>
<polygon points="212.9,577.8 213.8,580.2 216.3,580.3 214.3,581.9 215.0,584.3 212.9,582.9 210.8,584.3 211.5,581.9 209.5,580.3 212.0,580.2" fill="#f4f4f4" stroke="#111" stroke-width="0.95" stroke-linejoin="miter"/>
<polygon points="127.0,665.0 127.9,667.4 130.4,667.5 128.4,669.1 129.1,671.5 127.0,670.1 124.9,671.5 125.6,669.1 123.6,667.5 126.1,667.4" fill="#f4f4f4" stroke="#111" stroke-width="0.95" stroke-linejoin="miter"/>
</g></g>
<line class="gl" x1="59.5" y1="31" x2="59.5" y2="723"/>
<line class="gl" x1="139.5" y1="31" x2="139.5" y2="723"/>
<line class="gl" x1="219.5" y1="31" x2="219.5" y2="723"/>
<line class="gl" x1="299.5" y1="31" x2="299.5" y2="723"/>
<line class="gl" x1="379.5" y1="31" x2="379.5" y2="723"/>
<line class="gl" x1="539.5" y1="31" x2="539.5" y2="723"/>
<line class="gl" x1="619.5" y1="31" x2="619.5" y2="723"/>
<line class="gl" x1="4" y1="86.5" x2="673" y2="86.5"/>
<line class="gl" x1="4" y1="246.5" x2="673" y2="246.5"/>
<line class="gl" x1="4" y1="326.5" x2="673" y2="326.5"/>
<line class="gl" x1="4" y1="406.5" x2="673" y2="406.5"/>
<line class="gl" x1="4" y1="486.5" x2="673" y2="486.5"/>
<line class="gl" x1="4" y1="566.5" x2="673" y2="566.5"/>
<line class="gl" x1="4" y1="646.5" x2="673" y2="646.5"/>
<line class="sl" x1="460" y1="31" x2="460" y2="723"/>
<line class="sl" x1="4" y1="167" x2="673" y2="167"/>
<rect x="3" y="30" width="671" height="694" fill="none" stroke="#000" stroke-width="2" shape-rendering="crispEdges"/>
<text class="dg" x="11.3" y="79.7">1</text>
<text class="dg" x="11.3" y="159.7">0</text>
<text class="dg" x="11.3" y="239.7">9</text>
<text class="dg" x="11.3" y="319.7">8</text>
<text class="dg" x="11.3" y="399.7">7</text>
<text class="dg" x="11.3" y="479.7">6</text>
<text class="dg" x="11.3" y="559.7">5</text>
<text class="dg" x="11.3" y="639.7">4</text>
<text class="dg" x="67.3" y="716.7">5</text>
<text class="dg" x="147.3" y="716.7">6</text>
<text class="dg" x="227.3" y="716.7">7</text>
<text class="dg" x="307.3" y="716.7">8</text>
<text class="dg" x="387.3" y="716.7">9</text>
<text class="dg" x="467.3" y="716.7">0</text>
<text class="dg" x="547.3" y="716.7">1</text>
<text class="dg" x="627.3" y="716.7">2</text>
<text class="gr" x="9.8" y="53.9">SK</text>
<text class="gr" x="462" y="53.9">TF</text>
<text class="gr" x="9.8" y="671.8">SP</text>
<text class="gr" x="466" y="671.8">TL</text>
<rect x="348" y="295.5" width="15" height="15" fill="#1cc0f3"/>
<circle cx="435.4" cy="174.7" r="6.8" fill="#ffff00"/>
<circle cx="291.5" cy="398.6" r="6.8" fill="#ffff00"/>
<path class="red" d="M461.4 156.6h12.5v3.5h-12.5zM465.9 152.1h3.5v12.5h-3.5z"/>
<path class="red" d="M445.6 172.8h12.5v3.5h-12.5zM450.1 168.3h3.5v12.5h-3.5z"/>
<path class="red" d="M397.1 236.8h12.5v3.5h-12.5zM401.6 232.3h3.5v12.5h-3.5z"/>
<path class="red" d="M333.2 269.1h12.5v3.5h-12.5zM337.8 264.6h3.5v12.5h-3.5z"/>
<path class="red" d="M237.2 332.9h12.5v3.5h-12.5zM241.8 328.4h3.5v12.5h-3.5z"/>
<path class="red" d="M445.4 332.6h12.5v3.5h-12.5zM449.9 328.1h3.5v12.5h-3.5z"/>
<text class="h" x="678.2" y="61.8">Key:</text>
<rect x="687" y="77" width="13" height="13" fill="#1cc0f3"/>
<text class="t" x="709.3" y="88.9" textLength="188.2">Records Prior to 1980</text>
<circle cx="694.6" cy="113.3" r="6.8" fill="#ffff00"/>
<text class="t" x="710.8" y="118.7">Records 1980 - 1999</text>
<path class="red" d="M688.3 140.9h12.6v3.2h-12.6zM693.0 136.2h3.2v12.6h-3.2z"/>
<text class="t" x="710.6" y="147.6" textLength="168">Records Since 2000</text>
<text class="h" x="681.5" y="200.3">Useful Data:</text>
<text class="t" x="681.6" y="227.3" textLength="194">First Recorded in 1936</text>
<text class="t" x="682.3" y="255.1" textLength="191.5">Last Recorded in 2020</text>
<text class="t" x="682.6" y="282.9" textLength="97.6">13 Records</text>
<text class="t" x="682.6" y="310.7" textLength="110.6">Status: Local</text>
<text class="h" x="682.8" y="394.0">Flight Period:</text>
<rect class="ch" x="682.5" y="406.5" width="438" height="318"/>
<line class="ch" x1="682" y1="687.5" x2="1121" y2="687.5"/>
<rect class="ch" x="859.5" y="446.5" width="8" height="241"/>
<rect class="ch" x="867.5" y="446.5" width="9" height="241"/>
<rect class="ch" x="876.5" y="446.5" width="8" height="241"/>
<rect class="ch" x="901.5" y="446.5" width="8" height="241"/>
<rect class="ch" x="918.5" y="446.5" width="8" height="241"/>
<rect class="ch" x="834.5" y="567.5" width="8" height="120"/>
<rect class="ch" x="850.5" y="567.5" width="9" height="120"/>
<rect class="ch" x="893.5" y="567.5" width="8" height="120"/>
<line class="ch" x1="718.5" y1="687" x2="718.5" y2="695"/>
<line class="ch" x1="755.5" y1="687" x2="755.5" y2="695"/>
<line class="ch" x1="792.5" y1="687" x2="792.5" y2="695"/>
<line class="ch" x1="828.5" y1="687" x2="828.5" y2="695"/>
<line class="ch" x1="864.5" y1="687" x2="864.5" y2="695"/>
<line class="ch" x1="901.5" y1="687" x2="901.5" y2="695"/>
<line class="ch" x1="938.5" y1="687" x2="938.5" y2="695"/>
<line class="ch" x1="974.5" y1="687" x2="974.5" y2="695"/>
<line class="ch" x1="1010.5" y1="687" x2="1010.5" y2="695"/>
<line class="ch" x1="1047.5" y1="687" x2="1047.5" y2="695"/>
<line class="ch" x1="1084.5" y1="687" x2="1084.5" y2="695"/>
<text class="mono" x="691.2" y="706.7" textLength="21.4" lengthAdjust="spacing">Jan</text>
<text class="mono" x="727.7" y="706.7" textLength="21.4" lengthAdjust="spacing">Feb</text>
<text class="mono" x="764.2" y="706.7" textLength="21.4" lengthAdjust="spacing">Mar</text>
<text class="mono" x="800.7" y="706.7" textLength="21.4" lengthAdjust="spacing">Apr</text>
<text class="mono" x="837.2" y="706.7" textLength="21.4" lengthAdjust="spacing">May</text>
<text class="mono" x="873.7" y="706.7" textLength="21.4" lengthAdjust="spacing">Jun</text>
<text class="mono" x="910.2" y="706.7" textLength="21.4" lengthAdjust="spacing">Jly</text>
<text class="mono" x="946.7" y="706.7" textLength="21.4" lengthAdjust="spacing">Aug</text>
<text class="mono" x="983.2" y="706.7" textLength="21.4" lengthAdjust="spacing">Sep</text>
<text class="mono" x="1019.7" y="706.7" textLength="21.4" lengthAdjust="spacing">Oct</text>
<text class="mono" x="1056.2" y="706.7" textLength="21.4" lengthAdjust="spacing">Nov</text>
<text class="mono" x="1092.7" y="706.7" textLength="21.4" lengthAdjust="spacing">Dec</text>
<text class="mono" x="690.6" y="422.7" textLength="189.6" lengthAdjust="spacing">Records max of 2 in week 22</text>
</svg></body></html>
